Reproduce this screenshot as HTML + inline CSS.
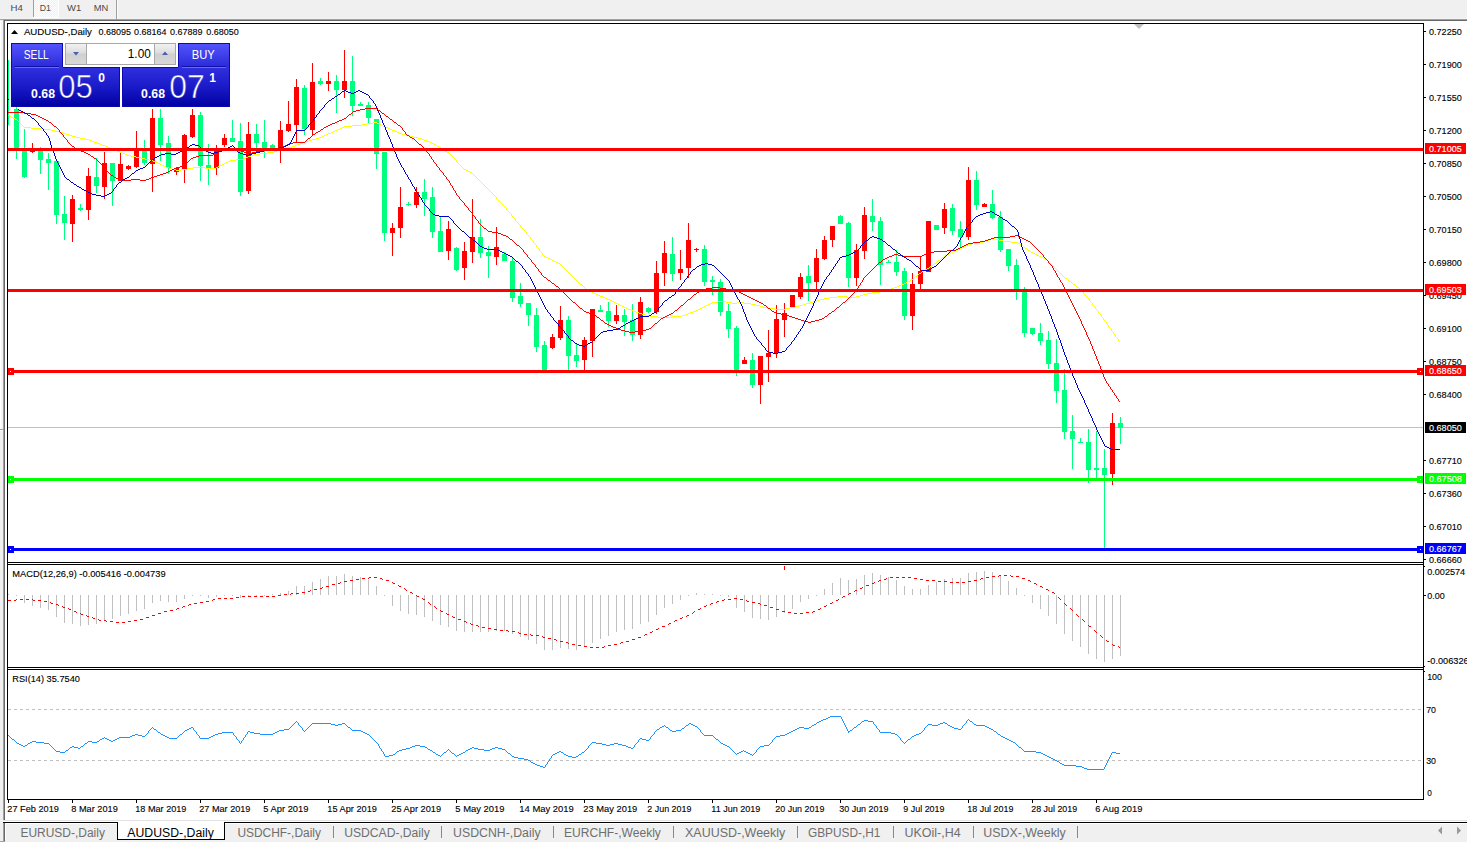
<!DOCTYPE html>
<html><head><meta charset="utf-8"><title>AUDUSD-,Daily</title>
<style>html,body{margin:0;padding:0;background:#fff;overflow:hidden}svg{display:block}text{font-family:"Liberation Sans",sans-serif;white-space:pre}</style></head>
<body>
<svg width="1467" height="842" viewBox="0 0 1467 842">
<rect x="0" y="0" width="1467" height="842" fill="#fff"/>
<rect x="0" y="0" width="1467" height="18" fill="#f0f0f0"/>
<rect x="0" y="18" width="1467" height="1" fill="#f4f4f4"/>
<rect x="0" y="19" width="1467" height="1" fill="#a0a0a0"/>
<rect x="3" y="20" width="1464" height="1" fill="#696969"/>
<rect x="0" y="20" width="3" height="802" fill="#f0f0f0"/>
<rect x="0" y="21" width="1" height="408" fill="#fff"/>
<rect x="1" y="21" width="2" height="408" fill="#f5f5f5"/>
<rect x="0" y="429" width="3" height="1" fill="#a0a0a0"/>
<rect x="0" y="430" width="3" height="1" fill="#fafafa"/>
<rect x="3" y="20" width="1" height="802" fill="#a0a0a0"/>
<rect x="4" y="21" width="1" height="801" fill="#696969"/>
<rect x="33" y="0" width="1" height="17" fill="#a0a0a0"/>
<defs><pattern id="chk" width="2" height="2" patternUnits="userSpaceOnUse"><rect width="2" height="2" fill="#f0f0f0"/><rect width="1" height="1" fill="#fff"/><rect x="1" y="1" width="1" height="1" fill="#fff"/></pattern><linearGradient id="gs" x1="0" y1="0" x2="0" y2="1"><stop offset="0" stop-color="#5555ff"/><stop offset="1" stop-color="#2a2ad8"/></linearGradient><linearGradient id="gb" gradientUnits="userSpaceOnUse" x1="0" y1="67" x2="0" y2="107"><stop offset="0" stop-color="#3030e0"/><stop offset="0.5" stop-color="#1a1ac8"/><stop offset="1" stop-color="#0000a0"/></linearGradient><linearGradient id="gg" x1="0" y1="0" x2="0" y2="1"><stop offset="0" stop-color="#f2f2f2"/><stop offset="0.45" stop-color="#dcdcdc"/><stop offset="0.5" stop-color="#cfcfcf"/><stop offset="1" stop-color="#d8d8d8"/></linearGradient><clipPath id="cm"><rect x="8" y="24" width="1415" height="538"/></clipPath></defs>
<rect x="34" y="0" width="24" height="17" fill="url(#chk)"/>
<rect x="33" y="17" width="26" height="1" fill="#fff"/>
<rect x="58" y="0" width="1" height="18" fill="#fff"/>
<rect x="116" y="0" width="1" height="19" fill="#a0a0a0"/>
<rect x="117" y="0" width="1" height="18" fill="#fbfbfb"/>
<text x="10.6" y="10.8" font-size="9.6" fill="#4a4a4a" textLength="12.3" lengthAdjust="spacingAndGlyphs" >H4</text>
<text x="39.8" y="10.8" font-size="9.6" fill="#4a4a4a" textLength="11.2" lengthAdjust="spacingAndGlyphs" >D1</text>
<text x="67" y="10.8" font-size="9.6" fill="#4a4a4a" textLength="14.2" lengthAdjust="spacingAndGlyphs" >W1</text>
<text x="93.8" y="10.8" font-size="9.6" fill="#4a4a4a" textLength="14.5" lengthAdjust="spacingAndGlyphs" >MN</text>
<rect x="7" y="23" width="1417" height="1" fill="#000"/>
<rect x="7" y="23" width="1" height="777" fill="#000"/>
<rect x="1423" y="23" width="1" height="777" fill="#000"/>
<rect x="7" y="562" width="1417" height="1" fill="#000"/>
<rect x="7" y="564" width="1417" height="1" fill="#000"/>
<rect x="7" y="667" width="1417" height="1" fill="#000"/>
<rect x="7" y="669" width="1417" height="1" fill="#000"/>
<rect x="7" y="799" width="1417" height="1" fill="#000"/>
<polygon points="1134,24 1144,24 1139,29" fill="#c0c0c0"/>
<g clip-path="url(#cm)" shape-rendering="crispEdges">
<rect x="8" y="427" width="1415" height="1" fill="#c0c0c0"/>
<rect x="8" y="60" width="1" height="65" fill="#00FF7F"/>
<rect x="16" y="107" width="1" height="52" fill="#00FF7F"/>
<rect x="14" y="109" width="5" height="41" fill="#00FF7F"/>
<rect x="24" y="129" width="1" height="49" fill="#00FF7F"/>
<rect x="22" y="148" width="5" height="29" fill="#00FF7F"/>
<rect x="32" y="143" width="1" height="10" fill="#FF0000"/>
<rect x="30" y="148" width="5" height="4" fill="#FF0000"/>
<rect x="40" y="147" width="1" height="27" fill="#00FF7F"/>
<rect x="38" y="150" width="5" height="10" fill="#00FF7F"/>
<rect x="48" y="153" width="1" height="37" fill="#00FF7F"/>
<rect x="46" y="159" width="5" height="4" fill="#00FF7F"/>
<rect x="56" y="161" width="1" height="63" fill="#00FF7F"/>
<rect x="54" y="161" width="5" height="54" fill="#00FF7F"/>
<rect x="64" y="196" width="1" height="44" fill="#00FF7F"/>
<rect x="62" y="214" width="5" height="9" fill="#00FF7F"/>
<rect x="72" y="195" width="1" height="47" fill="#FF0000"/>
<rect x="70" y="199" width="5" height="25" fill="#FF0000"/>
<rect x="80" y="204" width="1" height="7" fill="#00FF7F"/>
<rect x="78" y="208" width="5" height="2" fill="#00FF7F"/>
<rect x="88" y="168" width="1" height="52" fill="#FF0000"/>
<rect x="86" y="176" width="5" height="34" fill="#FF0000"/>
<rect x="96" y="158" width="1" height="35" fill="#00FF7F"/>
<rect x="94" y="177" width="5" height="9" fill="#00FF7F"/>
<rect x="104" y="152" width="1" height="47" fill="#FF0000"/>
<rect x="102" y="163" width="5" height="24" fill="#FF0000"/>
<rect x="112" y="163" width="1" height="43" fill="#00FF7F"/>
<rect x="110" y="163" width="5" height="18" fill="#00FF7F"/>
<rect x="120" y="153" width="1" height="28" fill="#FF0000"/>
<rect x="118" y="164" width="5" height="17" fill="#FF0000"/>
<rect x="128" y="165" width="1" height="5" fill="#FF0000"/>
<rect x="126" y="166" width="5" height="3" fill="#FF0000"/>
<rect x="136" y="131" width="1" height="37" fill="#FF0000"/>
<rect x="134" y="150" width="5" height="17" fill="#FF0000"/>
<rect x="144" y="140" width="1" height="25" fill="#00FF7F"/>
<rect x="142" y="150" width="5" height="13" fill="#00FF7F"/>
<rect x="152" y="109" width="1" height="83" fill="#FF0000"/>
<rect x="150" y="118" width="5" height="46" fill="#FF0000"/>
<rect x="160" y="109" width="1" height="52" fill="#00FF7F"/>
<rect x="158" y="118" width="5" height="27" fill="#00FF7F"/>
<rect x="168" y="136" width="1" height="38" fill="#00FF7F"/>
<rect x="166" y="143" width="5" height="25" fill="#00FF7F"/>
<rect x="176" y="167" width="1" height="8" fill="#FF0000"/>
<rect x="174" y="168" width="5" height="4" fill="#FF0000"/>
<rect x="184" y="134" width="1" height="49" fill="#FF0000"/>
<rect x="182" y="135" width="5" height="34" fill="#FF0000"/>
<rect x="192" y="109" width="1" height="29" fill="#FF0000"/>
<rect x="190" y="115" width="5" height="22" fill="#FF0000"/>
<rect x="200" y="112" width="1" height="69" fill="#00FF7F"/>
<rect x="198" y="115" width="5" height="51" fill="#00FF7F"/>
<rect x="208" y="144" width="1" height="41" fill="#00FF7F"/>
<rect x="206" y="165" width="5" height="3" fill="#00FF7F"/>
<rect x="216" y="145" width="1" height="30" fill="#FF0000"/>
<rect x="214" y="150" width="5" height="18" fill="#FF0000"/>
<rect x="224" y="134" width="1" height="13" fill="#FF0000"/>
<rect x="222" y="138" width="5" height="7" fill="#FF0000"/>
<rect x="232" y="120" width="1" height="22" fill="#00FF7F"/>
<rect x="230" y="138" width="5" height="4" fill="#00FF7F"/>
<rect x="240" y="123" width="1" height="73" fill="#00FF7F"/>
<rect x="238" y="141" width="5" height="51" fill="#00FF7F"/>
<rect x="248" y="122" width="1" height="72" fill="#FF0000"/>
<rect x="246" y="134" width="5" height="57" fill="#FF0000"/>
<rect x="256" y="124" width="1" height="27" fill="#00FF7F"/>
<rect x="254" y="134" width="5" height="9" fill="#00FF7F"/>
<rect x="264" y="120" width="1" height="38" fill="#00FF7F"/>
<rect x="262" y="142" width="5" height="6" fill="#00FF7F"/>
<rect x="272" y="144" width="1" height="5" fill="#00FF7F"/>
<rect x="270" y="145" width="5" height="4" fill="#00FF7F"/>
<rect x="280" y="121" width="1" height="42" fill="#FF0000"/>
<rect x="278" y="130" width="5" height="19" fill="#FF0000"/>
<rect x="288" y="101" width="1" height="31" fill="#FF0000"/>
<rect x="286" y="124" width="5" height="7" fill="#FF0000"/>
<rect x="296" y="79" width="1" height="63" fill="#FF0000"/>
<rect x="294" y="87" width="5" height="38" fill="#FF0000"/>
<rect x="304" y="85" width="1" height="50" fill="#00FF7F"/>
<rect x="302" y="88" width="5" height="41" fill="#00FF7F"/>
<rect x="312" y="63" width="1" height="73" fill="#FF0000"/>
<rect x="310" y="82" width="5" height="48" fill="#FF0000"/>
<rect x="320" y="78" width="1" height="7" fill="#00FF7F"/>
<rect x="318" y="81" width="5" height="3" fill="#00FF7F"/>
<rect x="328" y="72" width="1" height="19" fill="#FF0000"/>
<rect x="326" y="81" width="5" height="3" fill="#FF0000"/>
<rect x="336" y="75" width="1" height="38" fill="#00FF7F"/>
<rect x="334" y="81" width="5" height="9" fill="#00FF7F"/>
<rect x="344" y="50" width="1" height="48" fill="#FF0000"/>
<rect x="342" y="81" width="5" height="9" fill="#FF0000"/>
<rect x="352" y="56" width="1" height="60" fill="#00FF7F"/>
<rect x="350" y="81" width="5" height="25" fill="#00FF7F"/>
<rect x="360" y="102" width="1" height="4" fill="#00FF7F"/>
<rect x="358" y="104" width="5" height="2" fill="#00FF7F"/>
<rect x="368" y="102" width="1" height="21" fill="#00FF7F"/>
<rect x="366" y="105" width="5" height="13" fill="#00FF7F"/>
<rect x="376" y="119" width="1" height="50" fill="#00FF7F"/>
<rect x="374" y="119" width="5" height="35" fill="#00FF7F"/>
<rect x="384" y="152" width="1" height="89" fill="#00FF7F"/>
<rect x="382" y="152" width="5" height="81" fill="#00FF7F"/>
<rect x="392" y="223" width="1" height="33" fill="#FF0000"/>
<rect x="390" y="228" width="5" height="5" fill="#FF0000"/>
<rect x="400" y="187" width="1" height="51" fill="#FF0000"/>
<rect x="398" y="207" width="5" height="21" fill="#FF0000"/>
<rect x="408" y="202" width="1" height="4" fill="#00FF7F"/>
<rect x="406" y="204" width="5" height="1" fill="#00FF7F"/>
<rect x="416" y="187" width="1" height="21" fill="#FF0000"/>
<rect x="414" y="192" width="5" height="13" fill="#FF0000"/>
<rect x="424" y="179" width="1" height="37" fill="#00FF7F"/>
<rect x="422" y="192" width="5" height="7" fill="#00FF7F"/>
<rect x="432" y="187" width="1" height="51" fill="#00FF7F"/>
<rect x="430" y="197" width="5" height="35" fill="#00FF7F"/>
<rect x="440" y="217" width="1" height="35" fill="#00FF7F"/>
<rect x="438" y="231" width="5" height="21" fill="#00FF7F"/>
<rect x="448" y="221" width="1" height="39" fill="#FF0000"/>
<rect x="446" y="229" width="5" height="22" fill="#FF0000"/>
<rect x="456" y="247" width="1" height="24" fill="#00FF7F"/>
<rect x="454" y="248" width="5" height="22" fill="#00FF7F"/>
<rect x="464" y="242" width="1" height="38" fill="#FF0000"/>
<rect x="462" y="251" width="5" height="17" fill="#FF0000"/>
<rect x="472" y="199" width="1" height="64" fill="#FF0000"/>
<rect x="470" y="237" width="5" height="15" fill="#FF0000"/>
<rect x="480" y="219" width="1" height="39" fill="#00FF7F"/>
<rect x="478" y="237" width="5" height="16" fill="#00FF7F"/>
<rect x="488" y="246" width="1" height="32" fill="#00FF7F"/>
<rect x="486" y="252" width="5" height="4" fill="#00FF7F"/>
<rect x="496" y="227" width="1" height="38" fill="#FF0000"/>
<rect x="494" y="247" width="5" height="10" fill="#FF0000"/>
<rect x="504" y="252" width="1" height="9" fill="#00FF7F"/>
<rect x="502" y="254" width="5" height="7" fill="#00FF7F"/>
<rect x="512" y="257" width="1" height="45" fill="#00FF7F"/>
<rect x="510" y="261" width="5" height="37" fill="#00FF7F"/>
<rect x="520" y="283" width="1" height="24" fill="#00FF7F"/>
<rect x="518" y="296" width="5" height="8" fill="#00FF7F"/>
<rect x="528" y="303" width="1" height="23" fill="#00FF7F"/>
<rect x="526" y="303" width="5" height="12" fill="#00FF7F"/>
<rect x="536" y="308" width="1" height="44" fill="#00FF7F"/>
<rect x="534" y="315" width="5" height="32" fill="#00FF7F"/>
<rect x="544" y="341" width="1" height="29" fill="#00FF7F"/>
<rect x="542" y="345" width="5" height="25" fill="#00FF7F"/>
<rect x="552" y="334" width="1" height="15" fill="#FF0000"/>
<rect x="550" y="337" width="5" height="11" fill="#FF0000"/>
<rect x="560" y="306" width="1" height="34" fill="#FF0000"/>
<rect x="558" y="320" width="5" height="18" fill="#FF0000"/>
<rect x="568" y="316" width="1" height="54" fill="#00FF7F"/>
<rect x="566" y="320" width="5" height="36" fill="#00FF7F"/>
<rect x="576" y="343" width="1" height="24" fill="#00FF7F"/>
<rect x="574" y="355" width="5" height="6" fill="#00FF7F"/>
<rect x="584" y="337" width="1" height="33" fill="#FF0000"/>
<rect x="582" y="340" width="5" height="20" fill="#FF0000"/>
<rect x="592" y="309" width="1" height="48" fill="#FF0000"/>
<rect x="590" y="309" width="5" height="32" fill="#FF0000"/>
<rect x="600" y="305" width="1" height="7" fill="#00FF7F"/>
<rect x="598" y="310" width="5" height="2" fill="#00FF7F"/>
<rect x="608" y="302" width="1" height="25" fill="#00FF7F"/>
<rect x="606" y="311" width="5" height="10" fill="#00FF7F"/>
<rect x="616" y="305" width="1" height="19" fill="#FF0000"/>
<rect x="614" y="315" width="5" height="6" fill="#FF0000"/>
<rect x="624" y="309" width="1" height="27" fill="#00FF7F"/>
<rect x="622" y="315" width="5" height="7" fill="#00FF7F"/>
<rect x="632" y="304" width="1" height="37" fill="#00FF7F"/>
<rect x="630" y="320" width="5" height="15" fill="#00FF7F"/>
<rect x="640" y="297" width="1" height="42" fill="#FF0000"/>
<rect x="638" y="302" width="5" height="33" fill="#FF0000"/>
<rect x="648" y="307" width="1" height="6" fill="#00FF7F"/>
<rect x="646" y="308" width="5" height="4" fill="#00FF7F"/>
<rect x="656" y="261" width="1" height="53" fill="#FF0000"/>
<rect x="654" y="273" width="5" height="39" fill="#FF0000"/>
<rect x="664" y="241" width="1" height="45" fill="#FF0000"/>
<rect x="662" y="253" width="5" height="20" fill="#FF0000"/>
<rect x="672" y="237" width="1" height="44" fill="#00FF7F"/>
<rect x="670" y="254" width="5" height="20" fill="#00FF7F"/>
<rect x="680" y="250" width="1" height="30" fill="#FF0000"/>
<rect x="678" y="269" width="5" height="4" fill="#FF0000"/>
<rect x="688" y="223" width="1" height="55" fill="#FF0000"/>
<rect x="686" y="240" width="5" height="28" fill="#FF0000"/>
<rect x="696" y="248" width="1" height="4" fill="#FF0000"/>
<rect x="694" y="249" width="5" height="1" fill="#FF0000"/>
<rect x="704" y="245" width="1" height="41" fill="#00FF7F"/>
<rect x="702" y="249" width="5" height="33" fill="#00FF7F"/>
<rect x="712" y="276" width="1" height="19" fill="#00FF7F"/>
<rect x="710" y="280" width="5" height="2" fill="#00FF7F"/>
<rect x="720" y="279" width="1" height="37" fill="#00FF7F"/>
<rect x="718" y="282" width="5" height="30" fill="#00FF7F"/>
<rect x="728" y="304" width="1" height="34" fill="#00FF7F"/>
<rect x="726" y="311" width="5" height="18" fill="#00FF7F"/>
<rect x="736" y="326" width="1" height="50" fill="#00FF7F"/>
<rect x="734" y="328" width="5" height="42" fill="#00FF7F"/>
<rect x="744" y="357" width="1" height="7" fill="#FF0000"/>
<rect x="742" y="360" width="5" height="4" fill="#FF0000"/>
<rect x="752" y="353" width="1" height="35" fill="#00FF7F"/>
<rect x="750" y="360" width="5" height="25" fill="#00FF7F"/>
<rect x="760" y="356" width="1" height="48" fill="#FF0000"/>
<rect x="758" y="356" width="5" height="29" fill="#FF0000"/>
<rect x="768" y="330" width="1" height="52" fill="#FF0000"/>
<rect x="766" y="353" width="5" height="4" fill="#FF0000"/>
<rect x="776" y="305" width="1" height="53" fill="#FF0000"/>
<rect x="774" y="319" width="5" height="34" fill="#FF0000"/>
<rect x="784" y="303" width="1" height="34" fill="#FF0000"/>
<rect x="782" y="313" width="5" height="7" fill="#FF0000"/>
<rect x="792" y="295" width="1" height="13" fill="#FF0000"/>
<rect x="790" y="295" width="5" height="12" fill="#FF0000"/>
<rect x="800" y="273" width="1" height="26" fill="#FF0000"/>
<rect x="798" y="277" width="5" height="20" fill="#FF0000"/>
<rect x="808" y="265" width="1" height="36" fill="#00FF7F"/>
<rect x="806" y="276" width="5" height="7" fill="#00FF7F"/>
<rect x="816" y="249" width="1" height="40" fill="#FF0000"/>
<rect x="814" y="258" width="5" height="24" fill="#FF0000"/>
<rect x="824" y="236" width="1" height="24" fill="#FF0000"/>
<rect x="822" y="240" width="5" height="19" fill="#FF0000"/>
<rect x="832" y="226" width="1" height="21" fill="#FF0000"/>
<rect x="830" y="226" width="5" height="14" fill="#FF0000"/>
<rect x="840" y="215" width="1" height="9" fill="#00FF7F"/>
<rect x="838" y="216" width="5" height="8" fill="#00FF7F"/>
<rect x="848" y="222" width="1" height="65" fill="#00FF7F"/>
<rect x="846" y="223" width="5" height="55" fill="#00FF7F"/>
<rect x="856" y="244" width="1" height="42" fill="#FF0000"/>
<rect x="854" y="250" width="5" height="28" fill="#FF0000"/>
<rect x="864" y="207" width="1" height="52" fill="#FF0000"/>
<rect x="862" y="215" width="5" height="36" fill="#FF0000"/>
<rect x="872" y="199" width="1" height="32" fill="#00FF7F"/>
<rect x="870" y="216" width="5" height="6" fill="#00FF7F"/>
<rect x="880" y="217" width="1" height="68" fill="#00FF7F"/>
<rect x="878" y="221" width="5" height="44" fill="#00FF7F"/>
<rect x="888" y="260" width="1" height="3" fill="#00FF7F"/>
<rect x="886" y="262" width="5" height="1" fill="#00FF7F"/>
<rect x="896" y="250" width="1" height="26" fill="#00FF7F"/>
<rect x="894" y="262" width="5" height="10" fill="#00FF7F"/>
<rect x="904" y="268" width="1" height="52" fill="#00FF7F"/>
<rect x="902" y="271" width="5" height="45" fill="#00FF7F"/>
<rect x="912" y="273" width="1" height="57" fill="#FF0000"/>
<rect x="910" y="284" width="5" height="32" fill="#FF0000"/>
<rect x="920" y="256" width="1" height="33" fill="#FF0000"/>
<rect x="918" y="271" width="5" height="13" fill="#FF0000"/>
<rect x="928" y="221" width="1" height="51" fill="#FF0000"/>
<rect x="926" y="221" width="5" height="51" fill="#FF0000"/>
<rect x="936" y="225" width="1" height="5" fill="#00FF7F"/>
<rect x="934" y="225" width="5" height="5" fill="#00FF7F"/>
<rect x="944" y="203" width="1" height="31" fill="#FF0000"/>
<rect x="942" y="209" width="5" height="19" fill="#FF0000"/>
<rect x="952" y="204" width="1" height="31" fill="#00FF7F"/>
<rect x="950" y="208" width="5" height="23" fill="#00FF7F"/>
<rect x="960" y="221" width="1" height="27" fill="#00FF7F"/>
<rect x="958" y="229" width="5" height="8" fill="#00FF7F"/>
<rect x="968" y="167" width="1" height="73" fill="#FF0000"/>
<rect x="966" y="180" width="5" height="57" fill="#FF0000"/>
<rect x="976" y="171" width="1" height="39" fill="#00FF7F"/>
<rect x="974" y="180" width="5" height="25" fill="#00FF7F"/>
<rect x="984" y="203" width="1" height="4" fill="#FF0000"/>
<rect x="982" y="204" width="5" height="3" fill="#FF0000"/>
<rect x="992" y="190" width="1" height="29" fill="#00FF7F"/>
<rect x="990" y="204" width="5" height="14" fill="#00FF7F"/>
<rect x="1000" y="211" width="1" height="41" fill="#00FF7F"/>
<rect x="998" y="217" width="5" height="33" fill="#00FF7F"/>
<rect x="1008" y="249" width="1" height="22" fill="#00FF7F"/>
<rect x="1006" y="249" width="5" height="17" fill="#00FF7F"/>
<rect x="1016" y="259" width="1" height="41" fill="#00FF7F"/>
<rect x="1014" y="265" width="5" height="25" fill="#00FF7F"/>
<rect x="1024" y="287" width="1" height="50" fill="#00FF7F"/>
<rect x="1022" y="292" width="5" height="41" fill="#00FF7F"/>
<rect x="1032" y="328" width="1" height="7" fill="#00FF7F"/>
<rect x="1030" y="328" width="5" height="6" fill="#00FF7F"/>
<rect x="1040" y="323" width="1" height="22" fill="#00FF7F"/>
<rect x="1038" y="333" width="5" height="8" fill="#00FF7F"/>
<rect x="1048" y="331" width="1" height="38" fill="#00FF7F"/>
<rect x="1046" y="340" width="5" height="24" fill="#00FF7F"/>
<rect x="1056" y="339" width="1" height="64" fill="#00FF7F"/>
<rect x="1054" y="363" width="5" height="28" fill="#00FF7F"/>
<rect x="1064" y="369" width="1" height="70" fill="#00FF7F"/>
<rect x="1062" y="390" width="5" height="42" fill="#00FF7F"/>
<rect x="1072" y="415" width="1" height="54" fill="#00FF7F"/>
<rect x="1070" y="431" width="5" height="8" fill="#00FF7F"/>
<rect x="1080" y="438" width="1" height="5" fill="#00FF7F"/>
<rect x="1078" y="442" width="5" height="1" fill="#00FF7F"/>
<rect x="1088" y="429" width="1" height="54" fill="#00FF7F"/>
<rect x="1086" y="442" width="5" height="28" fill="#00FF7F"/>
<rect x="1096" y="431" width="1" height="47" fill="#00FF7F"/>
<rect x="1094" y="468" width="5" height="2" fill="#00FF7F"/>
<rect x="1104" y="449" width="1" height="99" fill="#00FF7F"/>
<rect x="1102" y="468" width="5" height="7" fill="#00FF7F"/>
<rect x="1112" y="413" width="1" height="72" fill="#FF0000"/>
<rect x="1110" y="423" width="5" height="51" fill="#FF0000"/>
<rect x="1120" y="417" width="1" height="27" fill="#00FF7F"/>
<rect x="1118" y="423" width="5" height="5" fill="#00FF7F"/>
<path d="M8 115h1v1h-1zM9 116h2v1h-2zM11 117h2v1h-2zM13 118h2v1h-2zM15 119h2v1h-2zM17 120h1v1h-1zM18 121h1v1h-1zM19 122h1v1h-1zM20 123h1v1h-1zM21 124h1v1h-1zM22 125h1v1h-1zM23 126h1v1h-1zM24 127h7v1h-7zM31 128h12v1h-12zM43 129h8v1h-8zM51 130h4v1h-4zM55 131h4v1h-4zM59 132h4v1h-4zM63 133h3v1h-3zM66 134h3v1h-3zM69 135h3v1h-3zM72 136h4v1h-4zM76 137h4v1h-4zM80 138h5v1h-5zM85 139h4v1h-4zM89 140h3v1h-3zM92 141h2v1h-2zM94 142h3v1h-3zM97 143h3v1h-3zM100 144h2v1h-2zM102 145h3v1h-3zM105 146h3v1h-3zM108 147h2v1h-2zM110 148h2v1h-2zM112 149h3v1h-3zM115 150h2v1h-2zM117 151h3v1h-3zM120 152h2v1h-2zM122 153h3v1h-3zM125 154h2v1h-2zM127 155h4v1h-4zM131 156h5v1h-5zM136 157h5v1h-5zM141 158h4v1h-4zM145 159h4v1h-4zM149 160h4v1h-4zM153 161h3v1h-3zM156 162h2v1h-2zM158 163h2v1h-2zM160 164h2v1h-2zM162 165h2v1h-2zM164 166h2v1h-2zM166 167h3v1h-3zM169 168h3v1h-3zM172 169h4v1h-4zM176 170h5v1h-5zM181 169h6v1h-6zM187 168h6v1h-6zM193 167h12v1h-12zM205 168h11v1h-11zM216 167h2v1h-2zM218 166h2v1h-2zM220 165h2v1h-2zM222 164h2v1h-2zM224 163h2v1h-2zM226 162h2v1h-2zM228 161h2v1h-2zM230 160h6v1h-6zM236 159h7v1h-7zM243 158h3v1h-3zM246 157h2v1h-2zM248 156h3v1h-3zM251 155h3v1h-3zM254 154h6v1h-6zM260 153h8v1h-8zM268 152h6v1h-6zM274 151h3v1h-3zM277 150h2v1h-2zM279 149h3v1h-3zM282 148h3v1h-3zM285 147h7v1h-7zM292 146h3v1h-3zM295 145h2v1h-2zM297 144h3v1h-3zM300 143h3v1h-3zM303 142h3v1h-3zM306 141h3v1h-3zM309 140h3v1h-3zM312 139h4v1h-4zM316 138h3v1h-3zM319 137h3v1h-3zM322 136h2v1h-2zM324 135h2v1h-2zM326 134h2v1h-2zM328 133h3v1h-3zM331 132h2v1h-2zM333 131h2v1h-2zM335 130h3v1h-3zM338 129h2v1h-2zM340 128h2v1h-2zM342 127h2v1h-2zM344 126h8v1h-8zM352 125h10v1h-10zM362 124h5v1h-5zM367 123h6v1h-6zM373 122h4v1h-4zM377 123h2v1h-2zM379 124h2v1h-2zM381 125h2v1h-2zM383 126h2v1h-2zM385 127h3v1h-3zM388 128h2v1h-2zM390 129h2v1h-2zM392 130h3v1h-3zM395 131h2v1h-2zM397 132h2v1h-2zM399 133h3v1h-3zM402 134h4v1h-4zM406 135h4v1h-4zM410 136h4v1h-4zM414 137h4v1h-4zM418 138h4v1h-4zM422 139h2v1h-2zM424 140h3v1h-3zM427 141h3v1h-3zM430 142h2v1h-2zM432 143h2v1h-2zM434 144h2v1h-2zM436 145h1v1h-1zM437 146h2v1h-2zM439 147h2v1h-2zM441 148h1v1h-1zM442 149h2v1h-2zM444 150h1v1h-1zM445 151h2v1h-2zM447 152h2v1h-2zM449 153h1v1h-1zM450 154h1v1h-1zM451 155h1v1h-1zM452 156h1v1h-1zM453 157h1v1h-1zM454 158h1v1h-1zM455 159h1v1h-1zM456 160h1v2h-1zM457 162h1v1h-1zM458 163h1v1h-1zM459 164h1v1h-1zM460 165h1v1h-1zM461 166h1v1h-1zM462 167h1v1h-1zM463 168h1v1h-1zM464 169h2v1h-2zM466 170h2v1h-2zM468 171h2v1h-2zM470 172h2v1h-2zM472 173h1v1h-1zM473 174h1v1h-1zM474 175h1v1h-1zM475 176h1v1h-1zM476 177h1v1h-1zM477 178h1v1h-1zM478 179h1v1h-1zM479 180h1v1h-1zM480 181h1v1h-1zM481 182h1v1h-1zM482 183h1v1h-1zM483 184h1v1h-1zM484 185h1v1h-1zM485 186h1v1h-1zM486 187h1v1h-1zM487 188h1v1h-1zM488 189h1v1h-1zM489 190h1v1h-1zM490 191h1v1h-1zM491 192h1v1h-1zM492 193h1v1h-1zM493 194h1v1h-1zM494 195h1v1h-1zM495 196h1v1h-1zM496 197h1v2h-1zM497 199h1v1h-1zM498 200h1v1h-1zM499 201h1v1h-1zM500 202h1v1h-1zM501 203h1v1h-1zM502 204h1v1h-1zM503 205h1v1h-1zM504 206h1v1h-1zM505 207h1v1h-1zM506 208h1v2h-1zM507 210h1v1h-1zM508 211h1v1h-1zM509 212h1v1h-1zM510 213h1v1h-1zM511 214h1v2h-1zM512 216h1v1h-1zM513 217h1v1h-1zM514 218h1v1h-1zM515 219h1v2h-1zM516 221h1v1h-1zM517 222h1v1h-1zM518 223h1v1h-1zM519 224h1v1h-1zM520 225h1v2h-1zM521 227h1v1h-1zM522 228h1v1h-1zM523 229h1v1h-1zM524 230h1v1h-1zM525 231h1v1h-1zM526 232h1v2h-1zM527 234h1v1h-1zM528 235h1v1h-1zM529 236h1v1h-1zM530 237h1v2h-1zM531 239h1v1h-1zM532 240h1v1h-1zM533 241h1v2h-1zM534 243h1v1h-1zM535 244h1v1h-1zM536 245h1v2h-1zM537 247h1v1h-1zM538 248h1v1h-1zM539 249h1v2h-1zM540 251h1v1h-1zM541 252h1v1h-1zM542 253h1v2h-1zM543 255h1v1h-1zM544 256h2v1h-2zM546 257h2v1h-2zM548 258h2v1h-2zM550 259h2v1h-2zM552 260h2v1h-2zM554 261h2v1h-2zM556 262h2v1h-2zM558 263h2v1h-2zM560 264h1v1h-1zM561 265h1v1h-1zM562 266h1v1h-1zM563 267h1v1h-1zM564 268h1v1h-1zM565 269h1v1h-1zM566 270h1v1h-1zM567 271h1v1h-1zM568 272h1v1h-1zM569 273h1v1h-1zM570 274h1v1h-1zM571 275h1v1h-1zM572 276h1v1h-1zM573 277h1v1h-1zM574 278h1v1h-1zM575 279h1v1h-1zM576 280h1v1h-1zM577 281h1v1h-1zM578 282h1v1h-1zM579 283h1v1h-1zM580 284h2v1h-2zM582 285h1v1h-1zM583 286h1v1h-1zM584 287h1v1h-1zM585 288h1v1h-1zM586 289h2v1h-2zM588 290h2v1h-2zM590 291h2v1h-2zM592 292h2v1h-2zM594 293h2v1h-2zM596 294h2v1h-2zM598 295h2v1h-2zM600 296h3v1h-3zM603 297h2v1h-2zM605 298h2v1h-2zM607 299h3v1h-3zM610 300h2v1h-2zM612 301h2v1h-2zM614 302h2v1h-2zM616 303h2v1h-2zM618 304h2v1h-2zM620 305h2v1h-2zM622 306h2v1h-2zM624 307h2v1h-2zM626 308h2v1h-2zM628 309h3v1h-3zM631 310h3v1h-3zM634 311h2v1h-2zM636 312h3v1h-3zM639 313h3v1h-3zM642 314h4v1h-4zM646 315h4v1h-4zM650 316h8v1h-8zM658 317h14v1h-14zM672 316h10v1h-10zM682 315h3v1h-3zM685 314h3v1h-3zM688 313h2v1h-2zM690 312h3v1h-3zM693 311h3v1h-3zM696 310h2v1h-2zM698 309h2v1h-2zM700 308h2v1h-2zM702 307h2v1h-2zM704 306h2v1h-2zM706 305h2v1h-2zM708 304h2v1h-2zM710 303h2v1h-2zM712 302h6v1h-6zM718 301h8v1h-8zM726 302h6v1h-6zM732 303h5v1h-5zM737 302h7v1h-7zM744 303h7v1h-7zM751 304h5v1h-5zM756 305h4v1h-4zM760 306h3v1h-3zM763 307h4v1h-4zM767 308h8v1h-8zM775 309h10v1h-10zM785 308h5v1h-5zM790 307h5v1h-5zM795 306h4v1h-4zM799 305h4v1h-4zM803 304h3v1h-3zM806 303h4v1h-4zM810 302h3v1h-3zM813 301h4v1h-4zM817 300h3v1h-3zM820 299h4v1h-4zM824 298h5v1h-5zM829 297h8v1h-8zM837 296h10v1h-10zM847 297h9v1h-9zM856 296h4v1h-4zM860 295h3v1h-3zM863 294h4v1h-4zM867 293h5v1h-5zM872 292h8v1h-8zM880 291h5v1h-5zM885 290h3v1h-3zM888 289h3v1h-3zM891 288h3v1h-3zM894 287h3v1h-3zM897 286h2v1h-2zM899 285h2v1h-2zM901 284h3v1h-3zM904 283h2v1h-2zM906 282h2v1h-2zM908 281h2v1h-2zM910 280h1v1h-1zM911 279h2v1h-2zM913 278h1v1h-1zM914 277h1v1h-1zM915 276h2v1h-2zM917 275h1v1h-1zM918 274h1v1h-1zM919 273h2v1h-2zM921 272h1v1h-1zM922 271h2v1h-2zM924 270h1v1h-1zM925 269h2v1h-2zM927 268h2v1h-2zM929 267h1v1h-1zM930 266h2v1h-2zM932 265h1v1h-1zM933 264h1v1h-1zM934 263h2v1h-2zM936 262h1v1h-1zM937 261h1v1h-1zM938 260h2v1h-2zM940 259h1v1h-1zM941 258h1v1h-1zM942 257h2v1h-2zM944 256h1v1h-1zM945 255h2v1h-2zM947 254h2v1h-2zM949 253h2v1h-2zM951 252h2v1h-2zM953 251h2v1h-2zM955 250h3v1h-3zM958 249h2v1h-2zM960 248h2v1h-2zM962 247h2v1h-2zM964 246h2v1h-2zM966 245h2v1h-2zM968 244h4v1h-4zM972 243h6v1h-6zM978 242h5v1h-5zM983 241h3v1h-3zM986 240h3v1h-3zM989 239h3v1h-3zM992 238h3v1h-3zM995 239h4v1h-4zM999 240h4v1h-4zM1003 241h8v1h-8zM1011 242h7v1h-7zM1018 243h2v1h-2zM1020 244h1v1h-1zM1021 245h2v1h-2zM1023 246h1v1h-1zM1024 247h1v1h-1zM1025 248h2v1h-2zM1027 249h1v1h-1zM1028 250h2v1h-2zM1030 251h1v1h-1zM1031 252h2v1h-2zM1033 253h2v1h-2zM1035 254h2v1h-2zM1037 255h2v1h-2zM1039 256h2v1h-2zM1041 257h2v1h-2zM1043 258h2v1h-2zM1045 259h2v1h-2zM1047 260h1v1h-1zM1048 261h1v1h-1zM1049 262h1v1h-1zM1050 263h1v1h-1zM1051 264h1v1h-1zM1052 265h1v1h-1zM1053 266h1v1h-1zM1054 267h1v1h-1zM1055 268h1v1h-1zM1056 269h1v1h-1zM1057 270h1v1h-1zM1058 271h1v1h-1zM1059 272h1v1h-1zM1060 273h1v1h-1zM1061 274h1v1h-1zM1062 275h1v1h-1zM1063 276h1v1h-1zM1064 277h1v1h-1zM1065 278h2v1h-2zM1067 279h1v1h-1zM1068 280h1v1h-1zM1069 281h2v1h-2zM1071 282h1v1h-1zM1072 283h1v1h-1zM1073 284h2v1h-2zM1075 285h1v1h-1zM1076 286h1v1h-1zM1077 287h2v1h-2zM1079 288h1v1h-1zM1080 289h1v1h-1zM1081 290h1v1h-1zM1082 291h1v1h-1zM1083 292h1v2h-1zM1084 294h1v1h-1zM1085 295h1v1h-1zM1086 296h1v1h-1zM1087 297h1v1h-1zM1088 298h1v1h-1zM1089 299h1v2h-1zM1090 301h1v1h-1zM1091 302h1v1h-1zM1092 303h1v2h-1zM1093 305h1v1h-1zM1094 306h1v1h-1zM1095 307h1v2h-1zM1096 309h1v1h-1zM1097 310h1v1h-1zM1098 311h1v2h-1zM1099 313h1v1h-1zM1100 314h1v1h-1zM1101 315h1v2h-1zM1102 317h1v1h-1zM1103 318h1v2h-1zM1104 320h1v1h-1zM1105 321h1v1h-1zM1106 322h1v2h-1zM1107 324h1v1h-1zM1108 325h1v2h-1zM1109 327h1v1h-1zM1110 328h1v1h-1zM1111 329h1v2h-1zM1112 331h1v1h-1zM1113 332h1v2h-1zM1114 334h1v1h-1zM1115 335h1v2h-1zM1116 337h1v1h-1zM1117 338h1v1h-1zM1118 339h1v2h-1zM1119 341h1v1h-1z" fill="#FFFF00"/>
<path d="M8 112h16v1h-16zM24 113h7v1h-7zM31 114h5v1h-5zM36 115h2v1h-2zM38 116h2v1h-2zM40 117h2v1h-2zM42 118h2v1h-2zM44 119h2v1h-2zM46 120h2v1h-2zM48 121h1v1h-1zM49 122h2v1h-2zM51 123h1v1h-1zM52 124h1v1h-1zM53 125h1v1h-1zM54 126h2v1h-2zM56 127h1v1h-1zM57 128h1v1h-1zM58 129h1v1h-1zM59 130h1v2h-1zM60 132h1v1h-1zM61 133h1v1h-1zM62 134h1v1h-1zM63 135h1v2h-1zM64 137h1v1h-1zM65 138h1v1h-1zM66 139h1v1h-1zM67 140h1v2h-1zM68 142h1v1h-1zM69 143h1v1h-1zM70 144h1v1h-1zM71 145h1v1h-1zM72 146h2v1h-2zM74 147h1v1h-1zM75 148h2v1h-2zM77 149h2v1h-2zM79 150h2v1h-2zM81 151h3v1h-3zM84 152h2v1h-2zM86 153h2v1h-2zM88 154h2v1h-2zM90 155h1v1h-1zM91 156h2v1h-2zM93 157h1v1h-1zM94 158h2v1h-2zM96 159h1v1h-1zM97 160h1v1h-1zM98 161h1v1h-1zM99 162h1v1h-1zM100 163h1v1h-1zM101 164h1v1h-1zM102 165h1v1h-1zM103 166h1v1h-1zM104 167h1v1h-1zM105 168h1v1h-1zM106 169h1v2h-1zM107 171h1v1h-1zM108 172h1v1h-1zM109 173h1v1h-1zM110 174h1v1h-1zM111 175h2v1h-2zM113 176h1v1h-1zM114 177h2v1h-2zM116 178h2v1h-2zM118 179h4v1h-4zM122 180h9v1h-9zM131 179h9v1h-9zM140 180h6v1h-6zM146 179h3v1h-3zM149 178h2v1h-2zM151 177h3v1h-3zM154 176h3v1h-3zM157 175h3v1h-3zM160 174h3v1h-3zM163 173h3v1h-3zM166 172h2v1h-2zM168 171h2v1h-2zM170 170h2v1h-2zM172 169h2v1h-2zM174 168h3v1h-3zM177 167h3v1h-3zM180 166h3v1h-3zM183 165h2v1h-2zM185 164h1v1h-1zM186 163h1v1h-1zM187 162h1v1h-1zM188 161h1v1h-1zM189 160h1v1h-1zM190 159h1v1h-1zM191 158h2v1h-2zM193 157h3v1h-3zM196 156h3v1h-3zM199 155h14v1h-14zM213 154h2v1h-2zM215 153h2v1h-2zM217 152h2v1h-2zM219 151h2v1h-2zM221 150h8v1h-8zM229 149h8v1h-8zM237 150h4v1h-4zM241 151h3v1h-3zM244 152h4v1h-4zM248 153h4v1h-4zM252 152h4v1h-4zM256 151h5v1h-5zM261 150h6v1h-6zM267 149h6v1h-6zM273 148h6v1h-6zM279 147h4v1h-4zM283 146h2v1h-2zM285 145h2v1h-2zM287 144h2v1h-2zM289 143h4v1h-4zM293 142h12v1h-12zM305 141h1v1h-1zM306 140h1v1h-1zM307 139h1v1h-1zM308 138h2v1h-2zM310 137h1v1h-1zM311 136h1v1h-1zM312 135h1v1h-1zM313 134h2v1h-2zM315 133h1v1h-1zM316 132h2v1h-2zM318 131h2v1h-2zM320 130h1v1h-1zM321 129h2v1h-2zM323 128h1v1h-1zM324 127h2v1h-2zM326 126h2v1h-2zM328 125h2v1h-2zM330 124h2v1h-2zM332 123h3v1h-3zM335 122h2v1h-2zM337 121h2v1h-2zM339 120h3v1h-3zM342 119h2v1h-2zM344 118h2v1h-2zM346 117h1v1h-1zM347 116h1v1h-1zM348 115h1v1h-1zM349 114h2v1h-2zM351 113h1v1h-1zM352 112h1v1h-1zM353 111h3v1h-3zM356 110h4v1h-4zM360 109h5v1h-5zM365 108h12v1h-12zM377 109h1v1h-1zM378 110h2v1h-2zM380 111h1v1h-1zM381 112h1v1h-1zM382 113h2v1h-2zM384 114h1v1h-1zM385 115h1v1h-1zM386 116h2v1h-2zM388 117h1v1h-1zM389 118h1v1h-1zM390 119h2v1h-2zM392 120h1v1h-1zM393 121h1v1h-1zM394 122h2v1h-2zM396 123h1v1h-1zM397 124h1v1h-1zM398 125h2v1h-2zM400 126h1v1h-1zM401 127h1v1h-1zM402 128h1v2h-1zM403 130h1v1h-1zM404 131h1v1h-1zM405 132h1v2h-1zM406 134h1v1h-1zM407 135h2v1h-2zM409 136h1v1h-1zM410 137h2v1h-2zM412 138h2v1h-2zM414 139h1v1h-1zM415 140h1v1h-1zM416 141h1v1h-1zM417 142h1v1h-1zM418 143h1v1h-1zM419 144h2v1h-2zM421 145h1v1h-1zM422 146h1v1h-1zM423 147h1v1h-1zM424 148h1v1h-1zM425 149h1v1h-1zM426 150h1v2h-1zM427 152h1v1h-1zM428 153h1v1h-1zM429 154h1v2h-1zM430 156h1v1h-1zM431 157h1v2h-1zM432 159h1v1h-1zM433 160h1v2h-1zM434 162h1v1h-1zM435 163h1v1h-1zM436 164h1v2h-1zM437 166h1v1h-1zM438 167h1v1h-1zM439 168h1v2h-1zM440 170h1v1h-1zM441 171h1v1h-1zM442 172h1v1h-1zM443 173h1v2h-1zM444 175h1v1h-1zM445 176h1v1h-1zM446 177h1v2h-1zM447 179h1v1h-1zM448 180h1v1h-1zM449 181h1v2h-1zM450 183h1v2h-1zM451 185h1v1h-1zM452 186h1v2h-1zM453 188h1v2h-1zM454 190h1v1h-1zM455 191h1v2h-1zM456 193h1v2h-1zM457 195h1v1h-1zM458 196h1v1h-1zM459 197h1v2h-1zM460 199h1v1h-1zM461 200h1v1h-1zM462 201h1v1h-1zM463 202h1v1h-1zM464 203h1v2h-1zM465 205h1v1h-1zM466 206h1v1h-1zM467 207h1v1h-1zM468 208h1v2h-1zM469 210h1v1h-1zM470 211h1v1h-1zM471 212h1v1h-1zM472 213h1v2h-1zM473 215h1v1h-1zM474 216h1v1h-1zM475 217h1v2h-1zM476 219h1v1h-1zM477 220h1v1h-1zM478 221h1v2h-1zM479 223h1v1h-1zM480 224h1v1h-1zM481 225h1v1h-1zM482 226h1v1h-1zM483 227h1v1h-1zM484 228h2v1h-2zM486 229h1v1h-1zM487 230h1v1h-1zM488 231h4v1h-4zM492 232h6v1h-6zM498 233h3v1h-3zM501 234h2v1h-2zM503 235h3v1h-3zM506 236h2v1h-2zM508 237h1v1h-1zM509 238h1v1h-1zM510 239h2v1h-2zM512 240h1v1h-1zM513 241h1v1h-1zM514 242h1v1h-1zM515 243h1v1h-1zM516 244h1v1h-1zM517 245h2v1h-2zM519 246h1v1h-1zM520 247h1v1h-1zM521 248h1v1h-1zM522 249h1v1h-1zM523 250h1v2h-1zM524 252h1v1h-1zM525 253h1v1h-1zM526 254h1v1h-1zM527 255h1v2h-1zM528 257h1v1h-1zM529 258h1v1h-1zM530 259h1v1h-1zM531 260h1v2h-1zM532 262h1v1h-1zM533 263h1v1h-1zM534 264h1v1h-1zM535 265h1v2h-1zM536 267h1v1h-1zM537 268h1v1h-1zM538 269h1v2h-1zM539 271h1v1h-1zM540 272h1v1h-1zM541 273h1v2h-1zM542 275h1v1h-1zM543 276h1v1h-1zM544 277h2v1h-2zM546 278h1v1h-1zM547 279h1v1h-1zM548 280h2v1h-2zM550 281h1v1h-1zM551 282h1v1h-1zM552 283h2v1h-2zM554 284h1v1h-1zM555 285h1v1h-1zM556 286h2v1h-2zM558 287h1v1h-1zM559 288h1v1h-1zM560 289h1v1h-1zM561 290h1v1h-1zM562 291h1v1h-1zM563 292h1v1h-1zM564 293h1v1h-1zM565 294h1v1h-1zM566 295h1v1h-1zM567 296h1v1h-1zM568 297h1v1h-1zM569 298h1v1h-1zM570 299h1v1h-1zM571 300h1v1h-1zM572 301h1v1h-1zM573 302h2v1h-2zM575 303h1v1h-1zM576 304h1v1h-1zM577 305h1v1h-1zM578 306h1v1h-1zM579 307h1v1h-1zM580 308h2v1h-2zM582 309h1v1h-1zM583 310h1v1h-1zM584 311h2v1h-2zM586 312h3v1h-3zM589 313h2v1h-2zM591 314h3v1h-3zM594 315h2v1h-2zM596 316h1v1h-1zM597 317h2v1h-2zM599 318h1v1h-1zM600 319h1v1h-1zM601 320h2v1h-2zM603 321h1v1h-1zM604 322h1v1h-1zM605 323h2v1h-2zM607 324h2v1h-2zM609 325h2v1h-2zM611 326h2v1h-2zM613 327h3v1h-3zM616 328h2v1h-2zM618 329h3v1h-3zM621 330h4v1h-4zM625 331h4v1h-4zM629 332h6v1h-6zM635 331h6v1h-6zM641 330h5v1h-5zM646 329h3v1h-3zM649 328h2v1h-2zM651 327h1v1h-1zM652 326h1v1h-1zM653 325h1v1h-1zM654 324h1v1h-1zM655 323h2v1h-2zM657 322h1v1h-1zM658 321h1v1h-1zM659 320h1v1h-1zM660 319h1v1h-1zM661 318h2v1h-2zM663 317h2v1h-2zM665 316h2v1h-2zM667 315h2v1h-2zM669 314h2v1h-2zM671 313h2v1h-2zM673 312h1v1h-1zM674 311h1v1h-1zM675 310h2v1h-2zM677 309h1v1h-1zM678 308h1v1h-1zM679 307h1v1h-1zM680 306h1v1h-1zM681 305h2v1h-2zM683 304h1v1h-1zM684 303h1v1h-1zM685 302h1v1h-1zM686 301h1v1h-1zM687 300h1v1h-1zM688 299h2v1h-2zM690 298h1v1h-1zM691 297h1v1h-1zM692 296h1v1h-1zM693 295h1v1h-1zM694 294h2v1h-2zM696 293h1v1h-1zM697 292h2v1h-2zM699 291h2v1h-2zM701 290h3v1h-3zM704 289h2v1h-2zM706 288h6v1h-6zM712 287h8v1h-8zM720 288h6v1h-6zM726 289h5v1h-5zM731 290h4v1h-4zM735 291h4v1h-4zM739 292h2v1h-2zM741 293h2v1h-2zM743 294h2v1h-2zM745 295h2v1h-2zM747 296h2v1h-2zM749 297h2v1h-2zM751 298h2v1h-2zM753 299h2v1h-2zM755 300h2v1h-2zM757 301h2v1h-2zM759 302h2v1h-2zM761 303h2v1h-2zM763 304h1v1h-1zM764 305h2v1h-2zM766 306h1v1h-1zM767 307h1v1h-1zM768 308h2v1h-2zM770 309h1v1h-1zM771 310h1v1h-1zM772 311h2v1h-2zM774 312h3v1h-3zM777 313h4v1h-4zM781 314h4v1h-4zM785 315h4v1h-4zM789 316h3v1h-3zM792 317h3v1h-3zM795 318h3v1h-3zM798 319h3v1h-3zM801 320h3v1h-3zM804 321h4v1h-4zM808 322h3v1h-3zM811 321h4v1h-4zM815 320h4v1h-4zM819 319h3v1h-3zM822 318h2v1h-2zM824 317h1v1h-1zM825 316h2v1h-2zM827 315h1v1h-1zM828 314h1v1h-1zM829 313h2v1h-2zM831 312h1v1h-1zM832 311h2v1h-2zM834 310h1v1h-1zM835 309h1v1h-1zM836 308h1v1h-1zM837 307h2v1h-2zM839 306h1v1h-1zM840 305h1v1h-1zM841 304h1v1h-1zM842 303h1v1h-1zM843 302h2v1h-2zM845 301h1v1h-1zM846 300h1v1h-1zM847 299h1v1h-1zM848 298h1v1h-1zM849 297h1v1h-1zM850 296h1v1h-1zM851 295h1v1h-1zM852 294h1v1h-1zM853 293h1v1h-1zM854 292h1v1h-1zM855 291h1v1h-1zM856 290h1v1h-1zM857 288h1v2h-1zM858 286h1v2h-1zM859 285h1v1h-1zM860 283h1v2h-1zM861 282h1v1h-1zM862 280h1v2h-1zM863 278h1v2h-1zM864 277h1v1h-1zM865 276h1v1h-1zM866 275h1v1h-1zM867 274h1v1h-1zM868 273h1v1h-1zM869 272h1v1h-1zM870 271h1v1h-1zM871 270h1v1h-1zM872 269h1v1h-1zM873 268h1v1h-1zM874 267h1v1h-1zM875 266h1v1h-1zM876 265h1v1h-1zM877 264h1v1h-1zM878 263h1v1h-1zM879 262h2v1h-2zM881 261h1v1h-1zM882 260h1v1h-1zM883 259h2v1h-2zM885 258h2v1h-2zM887 257h2v1h-2zM889 256h3v1h-3zM892 255h2v1h-2zM894 254h4v1h-4zM898 255h5v1h-5zM903 256h19v1h-19zM922 255h2v1h-2zM924 254h2v1h-2zM926 253h2v1h-2zM928 252h6v1h-6zM934 251h13v1h-13zM947 250h9v1h-9zM956 249h2v1h-2zM958 248h2v1h-2zM960 247h2v1h-2zM962 246h2v1h-2zM964 245h2v1h-2zM966 244h2v1h-2zM968 243h5v1h-5zM973 242h7v1h-7zM980 241h5v1h-5zM985 240h3v1h-3zM988 239h3v1h-3zM991 238h3v1h-3zM994 237h16v1h-16zM1010 236h5v1h-5zM1015 235h3v1h-3zM1018 236h2v1h-2zM1020 237h2v1h-2zM1022 238h2v1h-2zM1024 239h2v1h-2zM1026 240h2v1h-2zM1028 241h2v1h-2zM1030 242h1v1h-1zM1031 243h1v1h-1zM1032 244h1v1h-1zM1033 245h1v1h-1zM1034 246h1v1h-1zM1035 247h1v1h-1zM1036 248h1v1h-1zM1037 249h1v1h-1zM1038 250h1v1h-1zM1039 251h1v1h-1zM1040 252h1v1h-1zM1041 253h1v1h-1zM1042 254h1v1h-1zM1043 255h1v2h-1zM1044 257h1v1h-1zM1045 258h1v1h-1zM1046 259h1v1h-1zM1047 260h1v1h-1zM1048 261h1v2h-1zM1049 263h1v1h-1zM1050 264h1v1h-1zM1051 265h1v1h-1zM1052 266h1v2h-1zM1053 268h1v2h-1zM1054 270h1v1h-1zM1055 271h1v2h-1zM1056 273h1v2h-1zM1057 275h1v2h-1zM1058 277h1v1h-1zM1059 278h1v2h-1zM1060 280h1v2h-1zM1061 282h1v1h-1zM1062 283h1v2h-1zM1063 285h1v2h-1zM1064 287h1v2h-1zM1065 289h1v2h-1zM1066 291h1v2h-1zM1067 293h1v2h-1zM1068 295h1v2h-1zM1069 297h1v2h-1zM1070 299h1v2h-1zM1071 301h1v2h-1zM1072 303h1v2h-1zM1073 305h1v2h-1zM1074 307h1v2h-1zM1075 309h1v2h-1zM1076 311h1v2h-1zM1077 313h1v2h-1zM1078 315h1v2h-1zM1079 317h1v2h-1zM1080 319h1v2h-1zM1081 321h1v3h-1zM1082 324h1v2h-1zM1083 326h1v2h-1zM1084 328h1v2h-1zM1085 330h1v2h-1zM1086 332h1v3h-1zM1087 335h1v2h-1zM1088 337h1v2h-1zM1089 339h1v2h-1zM1090 341h1v3h-1zM1091 344h1v2h-1zM1092 346h1v3h-1zM1093 349h1v2h-1zM1094 351h1v3h-1zM1095 354h1v2h-1zM1096 356h1v3h-1zM1097 359h1v2h-1zM1098 361h1v3h-1zM1099 364h1v2h-1zM1100 366h1v3h-1zM1101 369h1v2h-1zM1102 371h1v3h-1zM1103 374h1v3h-1zM1104 377h1v2h-1zM1105 379h1v2h-1zM1106 381h1v2h-1zM1107 383h1v1h-1zM1108 384h1v2h-1zM1109 386h1v1h-1zM1110 387h1v2h-1zM1111 389h1v1h-1zM1112 390h1v2h-1zM1113 392h1v1h-1zM1114 393h1v2h-1zM1115 395h1v1h-1zM1116 396h1v2h-1zM1117 398h1v1h-1zM1118 399h1v2h-1zM1119 401h1v1h-1z" fill="#FF0000"/>
<path d="M18 109h1v1h-1zM19 110h2v1h-2zM21 111h2v1h-2zM23 112h2v1h-2zM25 113h2v1h-2zM27 114h1v1h-1zM28 115h2v1h-2zM30 116h1v1h-1zM31 117h1v1h-1zM32 118h2v1h-2zM34 119h1v1h-1zM35 120h1v1h-1zM36 121h1v1h-1zM37 122h1v1h-1zM38 123h1v2h-1zM39 125h1v1h-1zM40 126h1v1h-1zM41 127h1v1h-1zM42 128h1v1h-1zM43 129h1v2h-1zM44 131h1v1h-1zM45 132h1v1h-1zM46 133h1v2h-1zM47 135h1v1h-1zM48 136h1v2h-1zM49 138h1v3h-1zM50 141h1v4h-1zM51 145h1v3h-1zM52 148h1v3h-1zM53 151h1v2h-1zM54 153h1v3h-1zM55 156h1v3h-1zM56 159h1v2h-1zM57 161h1v2h-1zM58 163h1v2h-1zM59 165h1v2h-1zM60 167h1v2h-1zM61 169h1v2h-1zM62 171h1v2h-1zM63 173h1v2h-1zM64 175h1v2h-1zM65 177h1v1h-1zM66 178h1v1h-1zM67 179h2v1h-2zM69 180h1v1h-1zM70 181h1v1h-1zM71 182h2v1h-2zM73 183h1v1h-1zM74 184h2v1h-2zM76 185h1v1h-1zM77 186h2v1h-2zM79 187h2v1h-2zM81 188h1v1h-1zM82 189h2v1h-2zM84 190h2v1h-2zM86 191h2v1h-2zM88 192h2v1h-2zM90 193h2v1h-2zM92 194h4v1h-4zM96 195h5v1h-5zM101 196h4v1h-4zM105 195h2v1h-2zM107 194h2v1h-2zM109 193h2v1h-2zM111 192h1v1h-1zM112 191h1v1h-1zM113 189h1v2h-1zM114 188h1v1h-1zM115 187h1v1h-1zM116 185h1v2h-1zM117 184h1v1h-1zM118 183h1v1h-1zM119 182h2v1h-2zM121 181h1v1h-1zM122 180h1v1h-1zM123 179h2v1h-2zM125 178h2v1h-2zM127 177h2v1h-2zM129 176h1v1h-1zM130 175h1v1h-1zM131 174h1v1h-1zM132 173h2v1h-2zM134 172h1v1h-1zM135 171h1v1h-1zM136 170h2v1h-2zM138 169h2v1h-2zM140 168h3v1h-3zM143 167h2v1h-2zM145 166h1v1h-1zM146 165h1v1h-1zM147 164h1v1h-1zM148 163h1v1h-1zM149 162h1v1h-1zM150 161h1v1h-1zM151 160h1v1h-1zM152 159h2v1h-2zM154 158h1v1h-1zM155 157h2v1h-2zM157 156h2v1h-2zM159 155h2v1h-2zM161 154h4v1h-4zM165 153h6v1h-6zM171 154h5v1h-5zM176 153h2v1h-2zM178 152h2v1h-2zM180 151h2v1h-2zM182 150h2v1h-2zM184 149h2v1h-2zM186 148h1v1h-1zM187 147h2v1h-2zM189 146h1v1h-1zM190 145h2v1h-2zM192 144h3v1h-3zM195 145h4v1h-4zM199 146h1v1h-1zM200 147h1v1h-1zM201 148h2v1h-2zM203 149h1v1h-1zM204 150h2v1h-2zM206 151h2v1h-2zM208 152h3v1h-3zM211 153h3v1h-3zM214 152h4v1h-4zM218 151h4v1h-4zM222 150h2v1h-2zM224 149h2v1h-2zM226 148h2v1h-2zM228 147h2v1h-2zM230 146h2v1h-2zM232 145h1v1h-1zM233 146h1v1h-1zM234 147h1v1h-1zM235 148h1v2h-1zM236 150h1v1h-1zM237 151h1v1h-1zM238 152h2v1h-2zM240 153h3v1h-3zM243 154h3v1h-3zM246 155h3v1h-3zM249 154h3v1h-3zM252 153h4v1h-4zM256 152h4v1h-4zM260 151h4v1h-4zM264 150h4v1h-4zM268 149h5v1h-5zM273 148h6v1h-6zM279 147h5v1h-5zM284 146h2v1h-2zM286 145h2v1h-2zM288 144h2v1h-2zM290 142h1v2h-1zM291 140h1v2h-1zM292 138h1v2h-1zM293 136h1v2h-1zM294 134h1v2h-1zM295 132h1v2h-1zM296 130h9v1h-9zM296 131h1v1h-1zM305 129h1v1h-1zM306 128h1v1h-1zM307 127h1v1h-1zM308 125h1v2h-1zM309 124h1v1h-1zM310 123h1v1h-1zM311 122h1v1h-1zM312 121h1v1h-1zM313 119h1v2h-1zM314 118h1v1h-1zM315 117h1v1h-1zM316 115h1v2h-1zM317 114h1v1h-1zM318 113h1v1h-1zM319 111h1v2h-1zM320 110h1v1h-1zM321 109h1v1h-1zM322 108h1v1h-1zM323 107h1v1h-1zM324 105h1v2h-1zM325 104h1v1h-1zM326 103h1v1h-1zM327 102h1v1h-1zM328 101h1v1h-1zM329 100h2v1h-2zM331 99h1v1h-1zM332 98h2v1h-2zM334 97h1v1h-1zM335 96h2v1h-2zM337 95h1v1h-1zM338 94h2v1h-2zM340 93h1v1h-1zM341 92h1v1h-1zM342 91h2v1h-2zM344 90h2v1h-2zM346 91h2v1h-2zM348 92h3v1h-3zM351 93h3v1h-3zM354 92h2v1h-2zM356 91h2v1h-2zM358 90h2v1h-2zM360 91h2v1h-2zM362 92h2v1h-2zM364 93h2v1h-2zM366 94h2v1h-2zM368 95h1v1h-1zM369 96h1v2h-1zM370 98h1v1h-1zM371 99h1v1h-1zM372 100h1v1h-1zM373 101h1v2h-1zM374 103h1v1h-1zM375 104h1v2h-1zM376 106h1v2h-1zM377 108h1v3h-1zM378 111h1v2h-1zM379 113h1v2h-1zM380 115h1v3h-1zM381 118h1v2h-1zM382 120h1v3h-1zM383 123h1v2h-1zM384 125h1v2h-1zM385 127h1v3h-1zM386 130h1v2h-1zM387 132h1v3h-1zM388 135h1v2h-1zM389 137h1v2h-1zM390 139h1v3h-1zM391 142h1v2h-1zM392 144h1v3h-1zM393 147h1v2h-1zM394 149h1v3h-1zM395 152h1v2h-1zM396 154h1v3h-1zM397 157h1v2h-1zM398 159h1v2h-1zM399 161h1v2h-1zM400 163h1v2h-1zM401 165h1v2h-1zM402 167h1v1h-1zM403 168h1v2h-1zM404 170h1v2h-1zM405 172h1v2h-1zM406 174h1v1h-1zM407 175h1v2h-1zM408 177h1v2h-1zM409 179h1v1h-1zM410 180h1v2h-1zM411 182h1v2h-1zM412 184h1v2h-1zM413 186h1v1h-1zM414 187h1v2h-1zM415 189h1v2h-1zM416 191h1v1h-1zM417 192h1v2h-1zM418 194h1v1h-1zM419 195h1v2h-1zM420 197h1v1h-1zM421 198h1v2h-1zM422 200h1v2h-1zM423 202h1v1h-1zM424 203h1v2h-1zM425 205h1v1h-1zM426 206h1v1h-1zM427 207h1v1h-1zM428 208h1v1h-1zM429 209h1v2h-1zM430 211h1v1h-1zM431 212h1v1h-1zM432 213h1v1h-1zM433 214h2v1h-2zM435 215h4v1h-4zM439 216h10v1h-10zM449 217h1v1h-1zM450 218h1v1h-1zM451 219h1v1h-1zM452 220h1v1h-1zM453 221h1v2h-1zM454 223h1v1h-1zM455 224h1v1h-1zM456 225h1v1h-1zM457 226h1v1h-1zM458 227h1v1h-1zM459 228h1v1h-1zM460 229h1v1h-1zM461 230h1v1h-1zM462 231h2v1h-2zM464 232h1v1h-1zM465 233h1v1h-1zM466 234h1v1h-1zM467 235h1v1h-1zM468 236h1v1h-1zM469 237h2v1h-2zM471 238h1v1h-1zM472 239h1v1h-1zM473 240h2v1h-2zM475 241h1v1h-1zM476 242h1v1h-1zM477 243h1v1h-1zM478 244h1v1h-1zM479 245h1v1h-1zM480 246h2v1h-2zM482 247h2v1h-2zM484 248h3v1h-3zM487 249h11v1h-11zM498 250h2v1h-2zM500 251h2v1h-2zM502 252h2v1h-2zM504 253h2v1h-2zM506 254h2v1h-2zM508 255h2v1h-2zM510 256h2v1h-2zM512 257h1v1h-1zM513 258h1v1h-1zM514 259h1v1h-1zM515 260h1v1h-1zM516 261h2v1h-2zM518 262h1v1h-1zM519 263h1v1h-1zM520 264h1v1h-1zM521 265h1v1h-1zM522 266h1v2h-1zM523 268h1v1h-1zM524 269h1v1h-1zM525 270h1v2h-1zM526 272h1v1h-1zM527 273h1v1h-1zM528 274h1v2h-1zM529 276h1v1h-1zM530 277h1v2h-1zM531 279h1v2h-1zM532 281h1v2h-1zM533 283h1v2h-1zM534 285h1v2h-1zM535 287h1v2h-1zM536 289h1v2h-1zM537 291h1v2h-1zM538 293h1v2h-1zM539 295h1v2h-1zM540 297h1v2h-1zM541 299h1v2h-1zM542 301h1v2h-1zM543 303h1v2h-1zM544 305h1v2h-1zM545 307h1v2h-1zM546 309h1v1h-1zM547 310h1v2h-1zM548 312h1v1h-1zM549 313h1v1h-1zM550 314h1v2h-1zM551 316h1v1h-1zM552 317h1v1h-1zM553 318h1v2h-1zM554 320h1v1h-1zM555 321h1v1h-1zM556 322h1v1h-1zM557 323h1v1h-1zM558 324h1v2h-1zM559 326h1v1h-1zM560 327h1v1h-1zM561 328h1v1h-1zM562 329h1v1h-1zM563 330h1v1h-1zM564 331h1v2h-1zM565 333h1v1h-1zM566 334h1v1h-1zM567 335h1v1h-1zM568 336h1v2h-1zM569 338h1v1h-1zM570 339h1v1h-1zM571 340h2v1h-2zM573 341h1v1h-1zM574 342h1v1h-1zM575 343h2v1h-2zM577 344h2v1h-2zM579 345h4v1h-4zM583 346h2v1h-2zM585 345h2v1h-2zM587 344h1v1h-1zM588 343h2v1h-2zM590 342h2v1h-2zM592 341h1v1h-1zM593 340h1v1h-1zM594 339h1v1h-1zM595 338h1v1h-1zM596 337h1v1h-1zM597 336h1v1h-1zM598 335h1v1h-1zM599 334h1v1h-1zM600 333h1v1h-1zM601 332h2v1h-2zM603 331h4v1h-4zM607 330h6v1h-6zM613 329h5v1h-5zM618 328h2v1h-2zM620 327h1v1h-1zM621 326h2v1h-2zM623 325h2v1h-2zM625 324h1v1h-1zM626 323h2v1h-2zM628 322h2v1h-2zM630 321h2v1h-2zM632 320h2v1h-2zM634 319h2v1h-2zM636 318h2v1h-2zM638 317h2v1h-2zM640 316h9v1h-9zM649 315h2v1h-2zM651 314h1v1h-1zM652 313h2v1h-2zM654 312h2v1h-2zM656 311h1v1h-1zM657 310h1v1h-1zM658 308h1v2h-1zM659 307h1v1h-1zM660 306h1v1h-1zM661 305h1v1h-1zM662 303h1v2h-1zM663 302h1v1h-1zM664 301h1v1h-1zM665 300h2v1h-2zM667 299h1v1h-1zM668 298h1v1h-1zM669 297h2v1h-2zM671 296h1v1h-1zM672 295h2v1h-2zM674 294h1v1h-1zM675 292h1v2h-1zM676 291h1v1h-1zM677 290h1v1h-1zM678 288h1v2h-1zM679 287h1v1h-1zM680 286h1v1h-1zM681 284h1v2h-1zM682 283h1v1h-1zM683 282h1v1h-1zM684 280h1v2h-1zM685 279h1v1h-1zM686 278h1v1h-1zM687 276h1v2h-1zM688 275h1v1h-1zM689 274h1v1h-1zM690 272h1v2h-1zM691 271h1v1h-1zM692 270h1v1h-1zM693 269h2v1h-2zM695 268h1v1h-1zM696 267h1v1h-1zM697 266h2v1h-2zM699 265h2v1h-2zM701 264h4v1h-4zM705 263h3v1h-3zM708 264h4v1h-4zM712 265h2v1h-2zM714 266h1v1h-1zM715 267h1v1h-1zM716 268h1v1h-1zM717 269h1v1h-1zM718 270h1v1h-1zM719 271h1v1h-1zM720 272h1v1h-1zM721 273h1v1h-1zM722 274h1v1h-1zM723 275h1v1h-1zM724 276h1v1h-1zM725 277h1v1h-1zM726 278h1v1h-1zM727 279h1v1h-1zM728 280h1v1h-1zM729 281h1v2h-1zM730 283h1v2h-1zM731 285h1v2h-1zM732 287h1v2h-1zM733 289h1v2h-1zM734 291h1v2h-1zM735 293h1v2h-1zM736 295h1v2h-1zM737 297h1v2h-1zM738 299h1v1h-1zM739 300h1v2h-1zM740 302h1v2h-1zM741 304h1v2h-1zM742 306h1v3h-1zM743 309h1v3h-1zM744 312h1v2h-1zM745 314h1v3h-1zM746 317h1v3h-1zM747 320h1v2h-1zM748 322h1v2h-1zM749 324h1v2h-1zM750 326h1v2h-1zM751 328h1v2h-1zM752 330h1v2h-1zM753 332h1v2h-1zM754 334h1v2h-1zM755 336h1v1h-1zM756 337h1v2h-1zM757 339h1v1h-1zM758 340h1v1h-1zM759 341h1v1h-1zM760 342h1v1h-1zM761 343h1v2h-1zM762 345h1v1h-1zM763 346h1v1h-1zM764 347h1v1h-1zM765 348h1v2h-1zM766 350h1v1h-1zM767 351h2v1h-2zM769 352h4v1h-4zM773 353h5v1h-5zM778 352h4v1h-4zM782 351h3v1h-3zM785 350h1v1h-1zM786 348h1v2h-1zM787 347h1v1h-1zM788 346h1v1h-1zM789 345h1v1h-1zM790 344h1v1h-1zM791 342h1v2h-1zM792 341h1v1h-1zM793 340h1v1h-1zM794 338h1v2h-1zM795 337h1v1h-1zM796 335h1v2h-1zM797 334h1v1h-1zM798 332h1v2h-1zM799 331h1v1h-1zM800 329h1v2h-1zM801 328h1v1h-1zM802 326h1v2h-1zM803 324h1v2h-1zM804 322h1v2h-1zM805 320h1v2h-1zM806 318h1v2h-1zM807 316h1v2h-1zM808 314h1v2h-1zM809 312h1v2h-1zM810 310h1v2h-1zM811 308h1v2h-1zM812 306h1v2h-1zM813 303h1v3h-1zM814 301h1v2h-1zM815 299h1v2h-1zM816 297h1v2h-1zM817 295h1v2h-1zM818 292h1v3h-1zM819 290h1v2h-1zM820 288h1v2h-1zM821 286h1v2h-1zM822 284h1v2h-1zM823 282h1v2h-1zM824 280h1v2h-1zM825 279h1v1h-1zM826 277h1v2h-1zM827 276h1v1h-1zM828 275h1v1h-1zM829 273h1v2h-1zM830 272h1v1h-1zM831 270h1v2h-1zM832 269h1v1h-1zM833 267h1v2h-1zM834 266h1v1h-1zM835 264h1v2h-1zM836 263h1v1h-1zM837 261h1v2h-1zM838 260h1v1h-1zM839 258h1v2h-1zM840 257h2v1h-2zM842 256h4v1h-4zM846 255h3v1h-3zM849 254h2v1h-2zM851 253h2v1h-2zM853 252h2v1h-2zM855 251h2v1h-2zM857 250h1v1h-1zM858 249h1v1h-1zM859 248h1v1h-1zM860 246h1v2h-1zM861 245h1v1h-1zM862 244h1v1h-1zM863 243h1v1h-1zM864 242h1v1h-1zM865 241h1v1h-1zM866 240h2v1h-2zM868 239h1v1h-1zM869 238h1v1h-1zM870 237h2v1h-2zM872 236h2v1h-2zM874 237h3v1h-3zM877 238h3v1h-3zM880 239h2v1h-2zM882 240h1v1h-1zM883 241h2v1h-2zM885 242h1v1h-1zM886 243h1v1h-1zM887 244h1v1h-1zM888 245h2v1h-2zM890 246h1v1h-1zM891 247h1v1h-1zM892 248h1v1h-1zM893 249h2v1h-2zM895 250h1v1h-1zM896 251h1v1h-1zM897 252h1v1h-1zM898 253h2v1h-2zM900 254h1v1h-1zM901 255h1v1h-1zM902 256h2v1h-2zM904 257h2v1h-2zM906 258h1v1h-1zM907 259h2v1h-2zM909 260h2v1h-2zM911 261h1v1h-1zM912 262h1v1h-1zM913 263h1v1h-1zM914 264h1v1h-1zM915 265h1v1h-1zM916 266h2v1h-2zM918 267h1v1h-1zM919 268h1v1h-1zM920 269h1v1h-1zM921 270h8v1h-8zM929 269h2v1h-2zM931 268h1v1h-1zM932 267h2v1h-2zM934 266h2v1h-2zM936 265h1v1h-1zM937 264h1v1h-1zM938 263h1v1h-1zM939 262h1v1h-1zM940 261h1v1h-1zM941 260h1v1h-1zM942 259h1v1h-1zM943 258h1v1h-1zM944 257h1v1h-1zM945 256h1v1h-1zM946 255h1v1h-1zM947 254h1v1h-1zM948 253h1v1h-1zM949 252h1v1h-1zM950 251h1v1h-1zM951 250h2v1h-2zM953 249h1v1h-1zM954 248h1v1h-1zM955 247h1v1h-1zM956 246h1v1h-1zM957 244h1v2h-1zM958 242h1v2h-1zM959 240h1v2h-1zM960 238h1v2h-1zM961 237h1v1h-1zM962 235h1v2h-1zM963 233h1v2h-1zM964 231h1v2h-1zM965 229h1v2h-1zM966 227h1v2h-1zM967 226h1v1h-1zM968 225h1v1h-1zM969 224h1v1h-1zM970 223h1v1h-1zM971 222h1v1h-1zM972 220h1v2h-1zM973 219h1v1h-1zM974 218h1v1h-1zM975 217h1v1h-1zM976 216h2v1h-2zM978 215h2v1h-2zM980 214h3v1h-3zM983 213h3v1h-3zM986 212h4v1h-4zM990 211h2v1h-2zM992 212h2v1h-2zM994 213h1v1h-1zM995 214h2v1h-2zM997 215h2v1h-2zM999 216h1v1h-1zM1000 217h2v1h-2zM1002 218h1v1h-1zM1003 219h2v1h-2zM1005 220h2v1h-2zM1007 221h1v1h-1zM1008 222h1v1h-1zM1009 223h1v1h-1zM1010 224h1v1h-1zM1011 225h1v1h-1zM1012 226h2v1h-2zM1014 227h1v1h-1zM1015 228h1v1h-1zM1016 229h1v1h-1zM1017 230h1v2h-1zM1018 232h1v4h-1zM1019 236h1v3h-1zM1020 239h1v4h-1zM1021 243h1v4h-1zM1022 247h1v3h-1zM1023 250h1v2h-1zM1024 252h1v2h-1zM1025 254h1v2h-1zM1026 256h1v3h-1zM1027 259h1v2h-1zM1028 261h1v2h-1zM1029 263h1v2h-1zM1030 265h1v3h-1zM1031 268h1v2h-1zM1032 270h1v2h-1zM1033 272h1v3h-1zM1034 275h1v2h-1zM1035 277h1v3h-1zM1036 280h1v2h-1zM1037 282h1v2h-1zM1038 284h1v3h-1zM1039 287h1v2h-1zM1040 289h1v3h-1zM1041 292h1v2h-1zM1042 294h1v2h-1zM1043 296h1v3h-1zM1044 299h1v2h-1zM1045 301h1v3h-1zM1046 304h1v2h-1zM1047 306h1v3h-1zM1048 309h1v2h-1zM1049 311h1v3h-1zM1050 314h1v2h-1zM1051 316h1v3h-1zM1052 319h1v3h-1zM1053 322h1v2h-1zM1054 324h1v3h-1zM1055 327h1v2h-1zM1056 329h1v3h-1zM1057 332h1v3h-1zM1058 335h1v3h-1zM1059 338h1v2h-1zM1060 340h1v3h-1zM1061 343h1v3h-1zM1062 346h1v3h-1zM1063 349h1v3h-1zM1064 352h1v3h-1zM1065 355h1v2h-1zM1066 357h1v3h-1zM1067 360h1v3h-1zM1068 363h1v2h-1zM1069 365h1v3h-1zM1070 368h1v3h-1zM1071 371h1v2h-1zM1072 373h1v3h-1zM1073 376h1v2h-1zM1074 378h1v2h-1zM1075 380h1v3h-1zM1076 383h1v2h-1zM1077 385h1v3h-1zM1078 388h1v2h-1zM1079 390h1v2h-1zM1080 392h1v2h-1zM1081 394h1v2h-1zM1082 396h1v2h-1zM1083 398h1v2h-1zM1084 400h1v3h-1zM1085 403h1v2h-1zM1086 405h1v2h-1zM1087 407h1v2h-1zM1088 409h1v3h-1zM1089 412h1v2h-1zM1090 414h1v2h-1zM1091 416h1v2h-1zM1092 418h1v3h-1zM1093 421h1v2h-1zM1094 423h1v2h-1zM1095 425h1v2h-1zM1096 427h1v3h-1zM1097 430h1v2h-1zM1098 432h1v2h-1zM1099 434h1v2h-1zM1100 436h1v2h-1zM1101 438h1v2h-1zM1102 440h1v2h-1zM1103 442h1v2h-1zM1104 444h1v2h-1zM1105 446h2v1h-2zM1107 447h2v1h-2zM1109 448h2v1h-2zM1111 449h9v1h-9z" fill="#0000CD"/>
<rect x="8" y="99" width="1" height="1" fill="#0000CD"/>
<rect x="8" y="148" width="1415" height="3" fill="#FF0000"/>
<rect x="8" y="289" width="1415" height="3" fill="#FF0000"/>
<rect x="8" y="370" width="1415" height="3" fill="#FF0000"/>
<rect x="8" y="478" width="1415" height="3" fill="#00FF00"/>
<rect x="8" y="548" width="1415" height="3" fill="#0000FF"/>
<rect x="7" y="368" width="7" height="7" fill="#FF0000"/>
<rect x="10" y="371" width="1" height="1" fill="#fff"/>
<rect x="1417" y="368" width="7" height="7" fill="#FF0000"/>
<rect x="1420" y="371" width="1" height="1" fill="#fff"/>
<rect x="7" y="476" width="7" height="7" fill="#00FF00"/>
<rect x="10" y="479" width="1" height="1" fill="#fff"/>
<rect x="1417" y="476" width="7" height="7" fill="#00FF00"/>
<rect x="1420" y="479" width="1" height="1" fill="#fff"/>
<rect x="7" y="546" width="7" height="7" fill="#0000FF"/>
<rect x="10" y="549" width="1" height="1" fill="#fff"/>
<rect x="1417" y="546" width="7" height="7" fill="#0000FF"/>
<rect x="1420" y="549" width="1" height="1" fill="#fff"/>
</g>
<rect x="63" y="43" width="115" height="24" fill="#fff"/>
<rect x="11" y="43" width="52" height="24" fill="url(#gs)"/>
<rect x="178" y="43" width="52" height="24" fill="url(#gs)"/>
<rect x="11" y="67" width="109" height="40" fill="url(#gb)"/>
<rect x="122" y="67" width="108" height="40" fill="url(#gb)"/>
<rect x="11" y="43" width="52" height="1" fill="#0a0ab4"/>
<rect x="11" y="43" width="1" height="64" fill="#0a0ab4"/>
<rect x="178" y="43" width="52" height="1" fill="#0a0ab4"/>
<rect x="229" y="43" width="1" height="64" fill="#0a0ab4"/>
<rect x="11" y="106" width="109" height="1" fill="#0a0ab4"/>
<rect x="122" y="106" width="108" height="1" fill="#0a0ab4"/>
<rect x="119" y="67" width="1" height="40" fill="#0a0ab4"/>
<rect x="122" y="67" width="1" height="40" fill="#0a0ab4"/>
<rect x="62" y="43" width="1" height="24" fill="#0a0ab4"/>
<rect x="178" y="43" width="1" height="24" fill="#0a0ab4"/>
<rect x="63" y="67" width="57" height="1" fill="#0a0ab4"/>
<rect x="122" y="67" width="56" height="1" fill="#0a0ab4"/>
<rect x="15" y="66" width="44" height="1" fill="#1010a8"/>
<rect x="15" y="67" width="44" height="1" fill="#6a6af0"/>
<rect x="182" y="66" width="44" height="1" fill="#1010a8"/>
<rect x="182" y="67" width="44" height="1" fill="#6a6af0"/>
<rect x="65" y="43" width="111" height="22" fill="#a8a8a8"/>
<rect x="66" y="44" width="109" height="20" fill="#fff"/>
<rect x="66" y="44" width="20" height="20" fill="url(#gg)"/>
<rect x="86" y="44" width="1" height="20" fill="#a8a8a8"/>
<rect x="155" y="44" width="20" height="20" fill="url(#gg)"/>
<rect x="154" y="44" width="1" height="20" fill="#a8a8a8"/>
<polygon points="73,52 79,52 76,55.5" fill="#4a5fb0"/>
<polygon points="162,55 168,55 165,51.5" fill="#4a5fb0"/>
<text x="127.8" y="58" font-size="13" fill="#000" textLength="23" lengthAdjust="spacingAndGlyphs">1.00</text>
<text x="23.8" y="59" font-size="12" fill="#fff" textLength="25" lengthAdjust="spacingAndGlyphs">SELL</text>
<text x="191.8" y="59" font-size="12" fill="#fff" textLength="23" lengthAdjust="spacingAndGlyphs">BUY</text>
<text x="31.1" y="97.8" font-size="12" fill="#fff" textLength="23.9" lengthAdjust="spacingAndGlyphs" font-weight="bold">0.68</text>
<text x="141.1" y="97.8" font-size="12" fill="#fff" textLength="23.9" lengthAdjust="spacingAndGlyphs" font-weight="bold">0.68</text>
<text x="58.3" y="98.2" font-size="34" fill="#fff" textLength="34.5" lengthAdjust="spacingAndGlyphs" stroke="url(#gb)" stroke-width="0.6">05</text>
<text x="169.2" y="98.2" font-size="34" fill="#fff" textLength="35.5" lengthAdjust="spacingAndGlyphs" stroke="url(#gb)" stroke-width="0.6">07</text>
<text x="98.2" y="82" font-size="12" fill="#fff" textLength="6.7" lengthAdjust="spacingAndGlyphs" font-weight="bold">0</text>
<text x="209.3" y="82" font-size="12" fill="#fff" textLength="6.7" lengthAdjust="spacingAndGlyphs" font-weight="bold">1</text>
<polygon points="11,34 18,34 14.5,30" fill="#000"/>
<text x="23.9" y="34.9" font-size="9.6" fill="#000" textLength="68" lengthAdjust="spacingAndGlyphs" stroke="#000" stroke-width="0.12">AUDUSD-,Daily</text>
<text x="98.5" y="34.9" font-size="9.6" fill="#000" textLength="32.5" lengthAdjust="spacingAndGlyphs" stroke="#000" stroke-width="0.12">0.68095</text>
<text x="134.1" y="34.9" font-size="9.6" fill="#000" textLength="32.5" lengthAdjust="spacingAndGlyphs" stroke="#000" stroke-width="0.12">0.68164</text>
<text x="170" y="34.9" font-size="9.6" fill="#000" textLength="32.5" lengthAdjust="spacingAndGlyphs" stroke="#000" stroke-width="0.12">0.67889</text>
<text x="206.2" y="34.9" font-size="9.6" fill="#000" textLength="32.5" lengthAdjust="spacingAndGlyphs" stroke="#000" stroke-width="0.12">0.68050</text>
<text x="12.3" y="577.1" font-size="9.6" fill="#000" textLength="153.3" lengthAdjust="spacingAndGlyphs" stroke="#000" stroke-width="0.12">MACD(12,26,9) -0.005416 -0.004739</text>
<text x="12.3" y="681.9" font-size="9.6" fill="#000" textLength="67.6" lengthAdjust="spacingAndGlyphs" stroke="#000" stroke-width="0.12">RSI(14) 35.7540</text>
<g shape-rendering="crispEdges">
<rect x="8" y="594" width="1" height="1" fill="#c0c0c0"/>
<rect x="16" y="595" width="1" height="1" fill="#c0c0c0"/>
<rect x="24" y="595" width="1" height="8" fill="#c0c0c0"/>
<rect x="32" y="595" width="1" height="11" fill="#c0c0c0"/>
<rect x="40" y="595" width="1" height="13" fill="#c0c0c0"/>
<rect x="48" y="595" width="1" height="15" fill="#c0c0c0"/>
<rect x="56" y="595" width="1" height="22" fill="#c0c0c0"/>
<rect x="64" y="595" width="1" height="28" fill="#c0c0c0"/>
<rect x="72" y="595" width="1" height="29" fill="#c0c0c0"/>
<rect x="80" y="595" width="1" height="31" fill="#c0c0c0"/>
<rect x="88" y="595" width="1" height="30" fill="#c0c0c0"/>
<rect x="96" y="595" width="1" height="29" fill="#c0c0c0"/>
<rect x="104" y="595" width="1" height="25" fill="#c0c0c0"/>
<rect x="112" y="595" width="1" height="24" fill="#c0c0c0"/>
<rect x="120" y="595" width="1" height="21" fill="#c0c0c0"/>
<rect x="128" y="595" width="1" height="19" fill="#c0c0c0"/>
<rect x="136" y="595" width="1" height="16" fill="#c0c0c0"/>
<rect x="144" y="595" width="1" height="14" fill="#c0c0c0"/>
<rect x="152" y="595" width="1" height="8" fill="#c0c0c0"/>
<rect x="160" y="595" width="1" height="6" fill="#c0c0c0"/>
<rect x="168" y="595" width="1" height="7" fill="#c0c0c0"/>
<rect x="176" y="595" width="1" height="7" fill="#c0c0c0"/>
<rect x="184" y="595" width="1" height="4" fill="#c0c0c0"/>
<rect x="192" y="595" width="1" height="1" fill="#c0c0c0"/>
<rect x="200" y="595" width="1" height="1" fill="#c0c0c0"/>
<rect x="208" y="595" width="1" height="3" fill="#c0c0c0"/>
<rect x="216" y="595" width="1" height="2" fill="#c0c0c0"/>
<rect x="224" y="595" width="1" height="1" fill="#c0c0c0"/>
<rect x="232" y="595" width="1" height="1" fill="#c0c0c0"/>
<rect x="240" y="595" width="1" height="3" fill="#c0c0c0"/>
<rect x="248" y="595" width="1" height="1" fill="#c0c0c0"/>
<rect x="256" y="595" width="1" height="1" fill="#c0c0c0"/>
<rect x="264" y="595" width="1" height="1" fill="#c0c0c0"/>
<rect x="272" y="594" width="1" height="1" fill="#c0c0c0"/>
<rect x="280" y="593" width="1" height="2" fill="#c0c0c0"/>
<rect x="288" y="591" width="1" height="4" fill="#c0c0c0"/>
<rect x="296" y="586" width="1" height="9" fill="#c0c0c0"/>
<rect x="304" y="586" width="1" height="9" fill="#c0c0c0"/>
<rect x="312" y="582" width="1" height="13" fill="#c0c0c0"/>
<rect x="320" y="579" width="1" height="16" fill="#c0c0c0"/>
<rect x="328" y="576" width="1" height="19" fill="#c0c0c0"/>
<rect x="336" y="576" width="1" height="19" fill="#c0c0c0"/>
<rect x="344" y="574" width="1" height="21" fill="#c0c0c0"/>
<rect x="352" y="576" width="1" height="19" fill="#c0c0c0"/>
<rect x="360" y="577" width="1" height="18" fill="#c0c0c0"/>
<rect x="368" y="580" width="1" height="15" fill="#c0c0c0"/>
<rect x="376" y="586" width="1" height="9" fill="#c0c0c0"/>
<rect x="384" y="595" width="1" height="1" fill="#c0c0c0"/>
<rect x="392" y="595" width="1" height="11" fill="#c0c0c0"/>
<rect x="400" y="595" width="1" height="16" fill="#c0c0c0"/>
<rect x="408" y="595" width="1" height="19" fill="#c0c0c0"/>
<rect x="416" y="595" width="1" height="20" fill="#c0c0c0"/>
<rect x="424" y="595" width="1" height="22" fill="#c0c0c0"/>
<rect x="432" y="595" width="1" height="26" fill="#c0c0c0"/>
<rect x="440" y="595" width="1" height="30" fill="#c0c0c0"/>
<rect x="448" y="595" width="1" height="32" fill="#c0c0c0"/>
<rect x="456" y="595" width="1" height="36" fill="#c0c0c0"/>
<rect x="464" y="595" width="1" height="37" fill="#c0c0c0"/>
<rect x="472" y="595" width="1" height="37" fill="#c0c0c0"/>
<rect x="480" y="595" width="1" height="37" fill="#c0c0c0"/>
<rect x="488" y="595" width="1" height="37" fill="#c0c0c0"/>
<rect x="496" y="595" width="1" height="36" fill="#c0c0c0"/>
<rect x="504" y="595" width="1" height="36" fill="#c0c0c0"/>
<rect x="512" y="595" width="1" height="39" fill="#c0c0c0"/>
<rect x="520" y="595" width="1" height="42" fill="#c0c0c0"/>
<rect x="528" y="595" width="1" height="45" fill="#c0c0c0"/>
<rect x="536" y="595" width="1" height="49" fill="#c0c0c0"/>
<rect x="544" y="595" width="1" height="55" fill="#c0c0c0"/>
<rect x="552" y="595" width="1" height="55" fill="#c0c0c0"/>
<rect x="560" y="595" width="1" height="53" fill="#c0c0c0"/>
<rect x="568" y="595" width="1" height="54" fill="#c0c0c0"/>
<rect x="576" y="595" width="1" height="55" fill="#c0c0c0"/>
<rect x="584" y="595" width="1" height="52" fill="#c0c0c0"/>
<rect x="592" y="595" width="1" height="48" fill="#c0c0c0"/>
<rect x="600" y="595" width="1" height="44" fill="#c0c0c0"/>
<rect x="608" y="595" width="1" height="41" fill="#c0c0c0"/>
<rect x="616" y="595" width="1" height="37" fill="#c0c0c0"/>
<rect x="624" y="595" width="1" height="35" fill="#c0c0c0"/>
<rect x="632" y="595" width="1" height="34" fill="#c0c0c0"/>
<rect x="640" y="595" width="1" height="29" fill="#c0c0c0"/>
<rect x="648" y="595" width="1" height="27" fill="#c0c0c0"/>
<rect x="656" y="595" width="1" height="20" fill="#c0c0c0"/>
<rect x="664" y="595" width="1" height="13" fill="#c0c0c0"/>
<rect x="672" y="595" width="1" height="9" fill="#c0c0c0"/>
<rect x="680" y="595" width="1" height="5" fill="#c0c0c0"/>
<rect x="688" y="595" width="1" height="1" fill="#c0c0c0"/>
<rect x="696" y="593" width="1" height="2" fill="#c0c0c0"/>
<rect x="704" y="594" width="1" height="1" fill="#c0c0c0"/>
<rect x="712" y="594" width="1" height="1" fill="#c0c0c0"/>
<rect x="720" y="595" width="1" height="1" fill="#c0c0c0"/>
<rect x="728" y="595" width="1" height="2" fill="#c0c0c0"/>
<rect x="736" y="595" width="1" height="13" fill="#c0c0c0"/>
<rect x="744" y="595" width="1" height="17" fill="#c0c0c0"/>
<rect x="752" y="595" width="1" height="23" fill="#c0c0c0"/>
<rect x="760" y="595" width="1" height="24" fill="#c0c0c0"/>
<rect x="768" y="595" width="1" height="25" fill="#c0c0c0"/>
<rect x="776" y="595" width="1" height="22" fill="#c0c0c0"/>
<rect x="784" y="595" width="1" height="18" fill="#c0c0c0"/>
<rect x="792" y="595" width="1" height="14" fill="#c0c0c0"/>
<rect x="800" y="595" width="1" height="7" fill="#c0c0c0"/>
<rect x="808" y="595" width="1" height="4" fill="#c0c0c0"/>
<rect x="816" y="595" width="1" height="1" fill="#c0c0c0"/>
<rect x="824" y="589" width="1" height="6" fill="#c0c0c0"/>
<rect x="832" y="583" width="1" height="12" fill="#c0c0c0"/>
<rect x="840" y="578" width="1" height="17" fill="#c0c0c0"/>
<rect x="848" y="580" width="1" height="15" fill="#c0c0c0"/>
<rect x="856" y="579" width="1" height="16" fill="#c0c0c0"/>
<rect x="864" y="575" width="1" height="20" fill="#c0c0c0"/>
<rect x="872" y="573" width="1" height="22" fill="#c0c0c0"/>
<rect x="880" y="575" width="1" height="20" fill="#c0c0c0"/>
<rect x="888" y="577" width="1" height="18" fill="#c0c0c0"/>
<rect x="896" y="580" width="1" height="15" fill="#c0c0c0"/>
<rect x="904" y="586" width="1" height="9" fill="#c0c0c0"/>
<rect x="912" y="589" width="1" height="6" fill="#c0c0c0"/>
<rect x="920" y="589" width="1" height="6" fill="#c0c0c0"/>
<rect x="928" y="585" width="1" height="10" fill="#c0c0c0"/>
<rect x="936" y="582" width="1" height="13" fill="#c0c0c0"/>
<rect x="944" y="579" width="1" height="16" fill="#c0c0c0"/>
<rect x="952" y="578" width="1" height="17" fill="#c0c0c0"/>
<rect x="960" y="578" width="1" height="17" fill="#c0c0c0"/>
<rect x="968" y="573" width="1" height="22" fill="#c0c0c0"/>
<rect x="976" y="572" width="1" height="23" fill="#c0c0c0"/>
<rect x="984" y="571" width="1" height="24" fill="#c0c0c0"/>
<rect x="992" y="572" width="1" height="23" fill="#c0c0c0"/>
<rect x="1000" y="575" width="1" height="20" fill="#c0c0c0"/>
<rect x="1008" y="581" width="1" height="14" fill="#c0c0c0"/>
<rect x="1016" y="588" width="1" height="7" fill="#c0c0c0"/>
<rect x="1024" y="595" width="1" height="1" fill="#c0c0c0"/>
<rect x="1032" y="595" width="1" height="8" fill="#c0c0c0"/>
<rect x="1040" y="595" width="1" height="14" fill="#c0c0c0"/>
<rect x="1048" y="595" width="1" height="21" fill="#c0c0c0"/>
<rect x="1056" y="595" width="1" height="29" fill="#c0c0c0"/>
<rect x="1064" y="595" width="1" height="39" fill="#c0c0c0"/>
<rect x="1072" y="595" width="1" height="46" fill="#c0c0c0"/>
<rect x="1080" y="595" width="1" height="52" fill="#c0c0c0"/>
<rect x="1088" y="595" width="1" height="59" fill="#c0c0c0"/>
<rect x="1096" y="595" width="1" height="64" fill="#c0c0c0"/>
<rect x="1104" y="595" width="1" height="67" fill="#c0c0c0"/>
<rect x="1112" y="595" width="1" height="64" fill="#c0c0c0"/>
<rect x="1120" y="595" width="1" height="61" fill="#c0c0c0"/>
<path d="M8 600h3v1h-3zM14 600h2v1h-2zM16 599h1v1h-1zM20 599h3v1h-3zM26 599h3v1h-3zM32 599h1v1h-1zM33 600h2v1h-2zM38 600h3v1h-3zM44 601h3v1h-3zM50 602h1v1h-1zM51 603h2v1h-2zM56 604h2v1h-2zM58 605h1v1h-1zM62 606h1v1h-1zM63 607h2v1h-2zM68 608h1v1h-1zM69 609h2v1h-2zM74 611h2v1h-2zM76 612h1v1h-1zM80 613h1v1h-1zM81 614h2v1h-2zM86 615h1v1h-1zM87 616h2v1h-2zM92 617h1v1h-1zM93 618h2v1h-2zM98 619h1v1h-1zM99 620h2v1h-2zM104 620h2v1h-2zM106 621h1v1h-1zM110 621h3v1h-3zM116 622h3v1h-3zM122 622h3v1h-3zM128 621h3v1h-3zM134 620h3v1h-3zM140 619h3v1h-3zM146 617h3v1h-3zM152 615h3v1h-3zM158 613h3v1h-3zM164 611h3v1h-3zM170 610h3v1h-3zM176 609h1v1h-1zM177 608h2v1h-2zM182 607h1v1h-1zM183 606h2v1h-2zM188 605h1v1h-1zM189 604h2v1h-2zM194 603h3v1h-3zM200 602h3v1h-3zM206 601h3v1h-3zM212 600h1v1h-1zM213 599h2v1h-2zM218 598h3v1h-3zM224 598h3v1h-3zM230 598h3v1h-3zM236 597h3v1h-3zM242 596h3v1h-3zM248 596h3v1h-3zM254 596h3v1h-3zM260 596h3v1h-3zM266 596h3v1h-3zM272 596h3v1h-3zM278 595h3v1h-3zM284 594h3v1h-3zM290 594h1v1h-1zM291 593h2v1h-2zM296 593h3v1h-3zM302 592h3v1h-3zM308 591h2v1h-2zM310 590h1v1h-1zM314 589h3v1h-3zM320 588h2v1h-2zM322 587h1v1h-1zM326 586h3v1h-3zM332 584h3v1h-3zM338 583h2v1h-2zM340 582h1v1h-1zM344 581h3v1h-3zM350 580h3v1h-3zM356 579h3v1h-3zM362 578h3v1h-3zM368 578h1v1h-1zM369 577h2v1h-2zM374 577h3v1h-3zM380 578h2v1h-2zM382 579h1v1h-1zM386 580h3v1h-3zM392 582h1v1h-1zM393 583h2v1h-2zM398 585h1v1h-1zM399 586h2v1h-2zM404 588h1v1h-1zM405 589h1v1h-1zM406 590h1v1h-1zM410 592h2v1h-2zM412 593h1v1h-1zM416 595h1v1h-1zM417 596h2v1h-2zM422 598h1v1h-1zM423 599h2v1h-2zM428 602h1v1h-1zM429 603h1v1h-1zM430 604h1v1h-1zM434 606h1v1h-1zM435 607h1v1h-1zM436 608h1v1h-1zM440 610h1v1h-1zM441 611h2v1h-2zM446 613h1v1h-1zM447 614h2v1h-2zM452 616h1v1h-1zM453 617h2v1h-2zM458 619h3v1h-3zM464 621h2v1h-2zM466 622h1v1h-1zM470 623h1v1h-1zM471 624h2v1h-2zM476 625h2v1h-2zM478 626h1v1h-1zM482 627h3v1h-3zM488 628h3v1h-3zM494 629h3v1h-3zM500 630h3v1h-3zM506 630h2v1h-2zM508 631h1v1h-1zM512 631h3v1h-3zM518 632h1v1h-1zM519 633h2v1h-2zM524 634h3v1h-3zM530 634h1v1h-1zM531 635h2v1h-2zM536 635h3v1h-3zM542 636h1v1h-1zM543 637h2v1h-2zM548 638h3v1h-3zM554 639h2v1h-2zM556 640h1v1h-1zM560 641h3v1h-3zM566 642h2v1h-2zM568 643h1v1h-1zM572 644h3v1h-3zM578 645h3v1h-3zM584 646h3v1h-3zM590 647h3v1h-3zM596 647h3v1h-3zM602 647h2v1h-2zM604 646h1v1h-1zM608 645h3v1h-3zM614 644h3v1h-3zM620 643h1v1h-1zM621 642h2v1h-2zM626 641h3v1h-3zM632 639h3v1h-3zM638 637h3v1h-3zM644 635h1v1h-1zM645 634h2v1h-2zM650 632h2v1h-2zM652 631h1v1h-1zM656 629h2v1h-2zM658 628h1v1h-1zM662 626h3v1h-3zM668 624h1v1h-1zM669 623h2v1h-2zM674 621h1v1h-1zM675 620h2v1h-2zM680 618h2v1h-2zM682 617h1v1h-1zM686 616h1v1h-1zM687 615h2v1h-2zM692 613h1v1h-1zM693 612h1v1h-1zM694 611h1v1h-1zM698 609h2v1h-2zM700 608h1v1h-1zM704 606h2v1h-2zM706 605h1v1h-1zM710 604h1v1h-1zM711 603h2v1h-2zM716 602h1v1h-1zM717 601h2v1h-2zM722 600h2v1h-2zM724 599h1v1h-1zM728 599h3v1h-3zM734 598h3v1h-3zM740 599h3v1h-3zM746 600h1v1h-1zM747 601h2v1h-2zM752 602h3v1h-3zM758 603h2v1h-2zM760 604h1v1h-1zM764 605h3v1h-3zM770 607h3v1h-3zM776 609h3v1h-3zM782 611h3v1h-3zM788 612h3v1h-3zM794 613h3v1h-3zM800 613h3v1h-3zM806 612h3v1h-3zM812 612h1v1h-1zM813 611h2v1h-2zM818 609h2v1h-2zM820 608h1v1h-1zM824 606h2v1h-2zM826 605h1v1h-1zM830 603h2v1h-2zM832 602h1v1h-1zM836 600h2v1h-2zM838 599h1v1h-1zM842 597h1v1h-1zM843 596h2v1h-2zM848 594h1v1h-1zM849 593h2v1h-2zM854 591h1v1h-1zM855 590h2v1h-2zM860 588h2v1h-2zM862 587h1v1h-1zM866 585h3v1h-3zM872 583h2v1h-2zM874 582h1v1h-1zM878 581h1v1h-1zM879 580h2v1h-2zM884 579h2v1h-2zM886 578h1v1h-1zM890 577h3v1h-3zM896 577h3v1h-3zM902 577h3v1h-3zM908 577h3v1h-3zM914 578h3v1h-3zM920 579h3v1h-3zM926 580h3v1h-3zM932 580h3v1h-3zM938 581h3v1h-3zM944 581h3v1h-3zM950 582h3v1h-3zM956 582h3v1h-3zM962 582h3v1h-3zM968 581h3v1h-3zM974 580h3v1h-3zM980 579h1v1h-1zM981 578h2v1h-2zM986 577h3v1h-3zM992 576h3v1h-3zM998 576h1v1h-1zM999 575h2v1h-2zM1004 575h3v1h-3zM1010 575h1v1h-1zM1011 576h2v1h-2zM1016 576h3v1h-3zM1022 578h3v1h-3zM1028 580h2v1h-2zM1030 581h1v1h-1zM1034 583h2v1h-2zM1036 584h1v1h-1zM1040 586h2v1h-2zM1042 587h1v1h-1zM1046 589h2v1h-2zM1048 590h1v1h-1zM1052 592h2v1h-2zM1054 593h1v1h-1zM1058 597h1v1h-1zM1059 598h1v1h-1zM1060 599h1v1h-1zM1064 603h1v1h-1zM1065 604h1v1h-1zM1066 605h1v1h-1zM1070 608h1v1h-1zM1071 609h1v1h-1zM1072 610h1v1h-1zM1076 614h1v1h-1zM1077 615h1v1h-1zM1078 616h1v1h-1zM1082 619h1v1h-1zM1083 620h1v1h-1zM1084 621h1v1h-1zM1088 625h1v1h-1zM1089 626h2v1h-2zM1094 630h1v1h-1zM1095 631h1v1h-1zM1096 632h1v1h-1zM1100 635h1v1h-1zM1101 636h1v1h-1zM1102 637h1v1h-1zM1106 640h1v1h-1zM1107 641h2v1h-2zM1112 644h1v1h-1zM1113 645h2v1h-2zM1118 646h1v1h-1zM1119 647h1v1h-1z" fill="#FF0000"/>
<rect x="784" y="566" width="1" height="4" fill="#FF0000"/>
<line x1="8" y1="709.5" x2="1423" y2="709.5" stroke="#c0c0c0" stroke-dasharray="3,3"/>
<line x1="8" y1="760.5" x2="1423" y2="760.5" stroke="#c0c0c0" stroke-dasharray="3,3"/>
<path d="M8 735h1v1h-1zM9 736h1v1h-1zM10 737h1v1h-1zM11 738h1v1h-1zM12 739h2v1h-2zM14 740h1v1h-1zM15 741h1v1h-1zM16 742h1v1h-1zM17 743h2v1h-2zM19 744h2v1h-2zM21 745h2v1h-2zM23 746h2v1h-2zM25 745h2v1h-2zM27 744h1v1h-1zM28 743h2v1h-2zM30 742h2v1h-2zM32 741h4v1h-4zM36 742h8v1h-8zM44 743h5v1h-5zM49 744h1v1h-1zM50 745h1v1h-1zM51 746h1v1h-1zM52 747h1v1h-1zM53 748h1v1h-1zM54 749h1v1h-1zM55 750h1v1h-1zM56 751h4v1h-4zM60 752h5v1h-5zM65 751h1v1h-1zM66 750h2v1h-2zM68 749h1v1h-1zM69 748h1v1h-1zM70 747h2v1h-2zM72 746h2v1h-2zM74 747h4v1h-4zM78 748h2v1h-2zM80 747h1v1h-1zM81 746h2v1h-2zM83 745h1v1h-1zM84 744h1v1h-1zM85 743h2v1h-2zM87 742h1v1h-1zM88 741h4v1h-4zM92 742h5v1h-5zM97 741h2v1h-2zM99 740h1v1h-1zM100 739h2v1h-2zM102 738h2v1h-2zM104 737h1v1h-1zM105 738h2v1h-2zM107 739h2v1h-2zM109 740h2v1h-2zM111 741h2v1h-2zM113 740h2v1h-2zM115 739h2v1h-2zM117 738h2v1h-2zM119 737h11v1h-11zM130 736h2v1h-2zM132 735h3v1h-3zM135 734h3v1h-3zM138 735h4v1h-4zM142 736h3v1h-3zM145 735h1v1h-1zM146 734h1v1h-1zM147 733h1v1h-1zM148 731h1v2h-1zM149 730h1v1h-1zM150 729h1v1h-1zM151 728h1v1h-1zM152 727h1v1h-1zM153 728h1v1h-1zM154 729h2v1h-2zM156 730h1v1h-1zM157 731h1v1h-1zM158 732h2v1h-2zM160 733h1v1h-1zM161 734h2v1h-2zM163 735h2v1h-2zM165 736h2v1h-2zM167 737h2v1h-2zM169 738h8v1h-8zM177 737h1v1h-1zM178 736h1v1h-1zM179 735h1v1h-1zM180 734h2v1h-2zM182 733h1v1h-1zM183 732h1v1h-1zM184 731h1v1h-1zM185 730h2v1h-2zM187 729h2v1h-2zM189 728h2v1h-2zM191 727h2v1h-2zM193 728h1v2h-1zM194 730h1v1h-1zM195 731h1v1h-1zM196 732h1v2h-1zM197 734h1v1h-1zM198 735h1v1h-1zM199 736h1v2h-1zM200 738h9v1h-9zM209 737h2v1h-2zM211 736h2v1h-2zM213 735h2v1h-2zM215 734h3v1h-3zM218 733h4v1h-4zM222 732h11v1h-11zM233 733h1v2h-1zM234 735h1v1h-1zM235 736h1v1h-1zM236 737h1v2h-1zM237 739h1v1h-1zM238 740h1v1h-1zM239 741h1v2h-1zM240 743h1v1h-1zM241 741h1v2h-1zM242 740h1v1h-1zM243 738h1v2h-1zM244 737h1v1h-1zM245 735h1v2h-1zM246 734h1v1h-1zM247 732h1v2h-1zM248 731h2v1h-2zM250 732h4v1h-4zM254 733h6v1h-6zM260 734h13v1h-13zM273 733h2v1h-2zM275 732h2v1h-2zM277 731h2v1h-2zM279 730h5v1h-5zM284 729h5v1h-5zM289 728h1v1h-1zM290 727h1v1h-1zM291 726h1v1h-1zM292 725h1v1h-1zM293 724h1v1h-1zM294 723h1v1h-1zM295 722h1v1h-1zM296 721h1v1h-1zM297 722h1v1h-1zM298 723h1v2h-1zM299 725h1v1h-1zM300 726h1v1h-1zM301 727h1v1h-1zM302 728h1v2h-1zM303 730h1v1h-1zM304 731h1v1h-1zM305 730h1v1h-1zM306 729h1v1h-1zM307 728h1v1h-1zM308 727h1v1h-1zM309 726h1v1h-1zM310 725h1v1h-1zM311 724h1v1h-1zM312 723h19v1h-19zM331 724h4v1h-4zM335 725h3v1h-3zM338 724h4v1h-4zM342 723h3v1h-3zM345 724h1v1h-1zM346 725h1v1h-1zM347 726h1v1h-1zM348 727h2v1h-2zM350 728h1v1h-1zM351 729h1v1h-1zM352 730h9v1h-9zM361 731h2v1h-2zM363 732h2v1h-2zM365 733h2v1h-2zM367 734h2v1h-2zM369 735h1v1h-1zM370 736h1v1h-1zM371 737h1v1h-1zM372 738h1v1h-1zM373 739h1v1h-1zM374 740h1v1h-1zM375 741h1v1h-1zM376 742h1v1h-1zM377 743h1v1h-1zM378 744h1v2h-1zM379 746h1v2h-1zM380 748h1v1h-1zM381 749h1v2h-1zM382 751h1v1h-1zM383 752h1v2h-1zM384 754h1v2h-1zM385 756h4v1h-4zM389 755h4v1h-4zM393 754h2v1h-2zM395 753h1v1h-1zM396 752h1v1h-1zM397 751h2v1h-2zM399 750h3v1h-3zM402 749h4v1h-4zM406 748h4v1h-4zM410 747h2v1h-2zM412 746h3v1h-3zM415 745h5v1h-5zM420 746h5v1h-5zM425 747h2v1h-2zM427 748h1v1h-1zM428 749h2v1h-2zM430 750h2v1h-2zM432 751h1v1h-1zM433 752h2v1h-2zM435 753h1v1h-1zM436 754h2v1h-2zM438 755h2v1h-2zM440 756h1v1h-1zM441 755h1v1h-1zM442 754h1v1h-1zM443 753h1v1h-1zM444 752h2v1h-2zM446 751h1v1h-1zM447 750h1v1h-1zM448 749h1v1h-1zM449 750h1v1h-1zM450 751h1v1h-1zM451 752h1v1h-1zM452 753h2v1h-2zM454 754h1v1h-1zM455 755h1v1h-1zM456 756h1v1h-1zM457 755h2v1h-2zM459 754h2v1h-2zM461 753h2v1h-2zM463 752h2v1h-2zM465 751h1v1h-1zM466 750h2v1h-2zM468 749h2v1h-2zM470 748h2v1h-2zM472 747h2v1h-2zM474 748h4v1h-4zM478 749h6v1h-6zM484 750h6v1h-6zM490 749h2v1h-2zM492 748h3v1h-3zM495 747h3v1h-3zM498 748h4v1h-4zM502 749h3v1h-3zM505 750h1v1h-1zM506 751h1v1h-1zM507 752h1v1h-1zM508 753h2v1h-2zM510 754h1v1h-1zM511 755h1v1h-1zM512 756h2v1h-2zM514 757h4v1h-4zM518 758h6v1h-6zM524 759h4v1h-4zM528 760h2v1h-2zM530 761h1v1h-1zM531 762h2v1h-2zM533 763h2v1h-2zM535 764h2v1h-2zM537 765h3v1h-3zM540 766h3v1h-3zM543 767h2v1h-2zM545 765h1v2h-1zM546 764h1v1h-1zM547 762h1v2h-1zM548 761h1v1h-1zM549 759h1v2h-1zM550 758h1v1h-1zM551 756h1v2h-1zM552 755h1v1h-1zM553 754h2v1h-2zM555 753h2v1h-2zM557 752h2v1h-2zM559 751h2v1h-2zM561 752h2v1h-2zM563 753h1v1h-1zM564 754h2v1h-2zM566 755h2v1h-2zM568 756h4v1h-4zM572 757h4v1h-4zM576 756h2v1h-2zM578 755h1v1h-1zM579 754h2v1h-2zM581 753h1v1h-1zM582 752h2v1h-2zM584 751h1v1h-1zM585 750h1v1h-1zM586 749h1v1h-1zM587 748h1v1h-1zM588 746h1v2h-1zM589 745h1v1h-1zM590 744h1v1h-1zM591 743h1v1h-1zM592 742h4v1h-4zM596 743h6v1h-6zM602 744h4v1h-4zM606 745h4v1h-4zM610 744h4v1h-4zM614 743h4v1h-4zM618 744h4v1h-4zM622 745h4v1h-4zM626 746h2v1h-2zM628 747h3v1h-3zM631 748h2v1h-2zM633 747h1v1h-1zM634 745h1v2h-1zM635 744h1v1h-1zM636 743h1v1h-1zM637 742h1v1h-1zM638 740h1v2h-1zM639 739h1v1h-1zM640 738h2v1h-2zM642 739h4v1h-4zM646 740h3v1h-3zM649 739h1v1h-1zM650 737h1v2h-1zM651 736h1v1h-1zM652 735h1v1h-1zM653 734h1v1h-1zM654 732h1v2h-1zM655 731h1v1h-1zM656 730h1v1h-1zM657 729h2v1h-2zM659 728h1v1h-1zM660 727h2v1h-2zM662 726h2v1h-2zM664 725h1v1h-1zM665 726h1v1h-1zM666 727h2v1h-2zM668 728h1v1h-1zM669 729h1v1h-1zM670 730h2v1h-2zM672 731h4v1h-4zM676 730h5v1h-5zM681 729h1v1h-1zM682 728h2v1h-2zM684 727h1v1h-1zM685 726h1v1h-1zM686 725h2v1h-2zM688 724h1v1h-1zM689 723h2v1h-2zM691 724h2v1h-2zM693 725h2v1h-2zM695 726h2v1h-2zM697 727h1v1h-1zM698 728h1v1h-1zM699 729h1v1h-1zM700 730h1v2h-1zM701 732h1v1h-1zM702 733h1v1h-1zM703 734h1v1h-1zM704 735h9v1h-9zM713 736h1v1h-1zM714 737h1v1h-1zM715 738h1v1h-1zM716 739h2v1h-2zM718 740h1v1h-1zM719 741h1v1h-1zM720 742h1v1h-1zM721 743h2v1h-2zM723 744h2v1h-2zM725 745h2v1h-2zM727 746h2v1h-2zM729 747h1v1h-1zM730 748h1v1h-1zM731 749h1v1h-1zM732 750h1v1h-1zM733 751h1v1h-1zM734 752h1v1h-1zM735 753h1v1h-1zM736 754h1v1h-1zM737 753h2v1h-2zM739 752h2v1h-2zM741 751h2v1h-2zM743 750h1v1h-1zM744 751h2v1h-2zM746 752h2v1h-2zM748 753h2v1h-2zM750 754h2v1h-2zM752 755h1v1h-1zM753 754h1v1h-1zM754 753h1v1h-1zM755 752h1v1h-1zM756 750h1v2h-1zM757 749h1v1h-1zM758 748h1v1h-1zM759 747h1v1h-1zM760 746h4v1h-4zM764 745h5v1h-5zM769 744h1v1h-1zM770 743h1v1h-1zM771 742h1v1h-1zM772 740h1v2h-1zM773 739h1v1h-1zM774 738h1v1h-1zM775 737h1v1h-1zM776 736h4v1h-4zM780 735h5v1h-5zM785 734h2v1h-2zM787 733h2v1h-2zM789 732h2v1h-2zM791 731h2v1h-2zM793 730h2v1h-2zM795 729h2v1h-2zM797 728h2v1h-2zM799 727h5v1h-5zM804 728h5v1h-5zM809 727h2v1h-2zM811 726h1v1h-1zM812 725h2v1h-2zM814 724h2v1h-2zM816 723h1v1h-1zM817 722h2v1h-2zM819 721h2v1h-2zM821 720h2v1h-2zM823 719h3v1h-3zM826 718h2v1h-2zM828 717h2v1h-2zM830 716h11v1h-11zM841 717h1v2h-1zM842 719h1v2h-1zM843 721h1v2h-1zM844 723h1v2h-1zM845 725h1v2h-1zM846 727h1v2h-1zM847 729h1v2h-1zM848 731h2v1h-2zM848 732h1v1h-1zM850 730h2v1h-2zM852 729h1v1h-1zM853 728h1v1h-1zM854 727h2v1h-2zM856 726h1v1h-1zM857 725h1v1h-1zM858 724h2v1h-2zM860 723h1v1h-1zM861 722h1v1h-1zM862 721h2v1h-2zM864 720h4v1h-4zM868 721h5v1h-5zM873 722h1v2h-1zM874 724h1v1h-1zM875 725h1v1h-1zM876 726h1v2h-1zM877 728h1v1h-1zM878 729h1v1h-1zM879 730h1v2h-1zM880 732h11v1h-11zM891 733h4v1h-4zM895 734h2v1h-2zM897 735h1v1h-1zM898 736h1v1h-1zM899 737h1v1h-1zM900 738h1v2h-1zM901 740h1v1h-1zM902 741h1v1h-1zM903 742h1v1h-1zM904 743h1v1h-1zM905 742h1v1h-1zM906 741h1v1h-1zM907 740h1v1h-1zM908 739h2v1h-2zM910 738h1v1h-1zM911 737h1v1h-1zM912 736h2v1h-2zM914 735h2v1h-2zM916 734h3v1h-3zM919 733h2v1h-2zM921 732h1v1h-1zM922 731h1v1h-1zM923 730h1v1h-1zM924 728h1v2h-1zM925 727h1v1h-1zM926 726h1v1h-1zM927 725h1v1h-1zM928 724h4v1h-4zM932 725h6v1h-6zM938 724h2v1h-2zM940 723h3v1h-3zM943 722h2v1h-2zM945 723h2v1h-2zM947 724h1v1h-1zM948 725h2v1h-2zM950 726h2v1h-2zM952 727h2v1h-2zM954 728h4v1h-4zM958 729h3v1h-3zM961 728h1v1h-1zM962 726h1v2h-1zM963 725h1v1h-1zM964 724h1v1h-1zM965 723h1v1h-1zM966 721h1v2h-1zM967 720h1v1h-1zM968 719h1v1h-1zM969 720h1v1h-1zM970 721h2v1h-2zM972 722h1v1h-1zM973 723h1v1h-1zM974 724h2v1h-2zM976 725h9v1h-9zM985 726h2v1h-2zM987 727h2v1h-2zM989 728h2v1h-2zM991 729h2v1h-2zM993 730h1v1h-1zM994 731h2v1h-2zM996 732h1v1h-1zM997 733h1v1h-1zM998 734h2v1h-2zM1000 735h1v1h-1zM1001 736h2v1h-2zM1003 737h2v1h-2zM1005 738h2v1h-2zM1007 739h2v1h-2zM1009 740h2v1h-2zM1011 741h2v1h-2zM1013 742h2v1h-2zM1015 743h1v1h-1zM1016 744h1v1h-1zM1017 745h1v1h-1zM1018 746h1v1h-1zM1019 747h2v1h-2zM1021 748h1v1h-1zM1022 749h1v1h-1zM1023 750h1v1h-1zM1024 751h12v1h-12zM1036 752h5v1h-5zM1041 753h2v1h-2zM1043 754h2v1h-2zM1045 755h2v1h-2zM1047 756h2v1h-2zM1049 757h2v1h-2zM1051 758h2v1h-2zM1053 759h2v1h-2zM1055 760h2v1h-2zM1057 761h2v1h-2zM1059 762h1v1h-1zM1060 763h2v1h-2zM1062 764h2v1h-2zM1064 765h12v1h-12zM1076 766h6v1h-6zM1082 767h2v1h-2zM1084 768h3v1h-3zM1087 769h17v1h-17zM1104 767h1v2h-1zM1105 765h1v2h-1zM1106 763h1v2h-1zM1107 761h1v2h-1zM1108 759h1v2h-1zM1109 757h1v2h-1zM1110 755h1v2h-1zM1111 753h1v2h-1zM1112 752h4v1h-4zM1116 753h4v1h-4z" fill="#1E90FF"/>
</g>
<rect x="1424" y="31" width="2" height="1" fill="#000"/>
<text x="1429" y="34.8" font-size="9.6" fill="#000" textLength="32.8" lengthAdjust="spacingAndGlyphs" stroke="#000" stroke-width="0.12">0.72250</text>
<rect x="1424" y="64" width="2" height="1" fill="#000"/>
<text x="1429" y="67.8" font-size="9.6" fill="#000" textLength="32.8" lengthAdjust="spacingAndGlyphs" stroke="#000" stroke-width="0.12">0.71900</text>
<rect x="1424" y="97" width="2" height="1" fill="#000"/>
<text x="1429" y="100.8" font-size="9.6" fill="#000" textLength="32.8" lengthAdjust="spacingAndGlyphs" stroke="#000" stroke-width="0.12">0.71550</text>
<rect x="1424" y="130" width="2" height="1" fill="#000"/>
<text x="1429" y="133.8" font-size="9.6" fill="#000" textLength="32.8" lengthAdjust="spacingAndGlyphs" stroke="#000" stroke-width="0.12">0.71200</text>
<rect x="1424" y="163" width="2" height="1" fill="#000"/>
<text x="1429" y="166.8" font-size="9.6" fill="#000" textLength="32.8" lengthAdjust="spacingAndGlyphs" stroke="#000" stroke-width="0.12">0.70850</text>
<rect x="1424" y="196" width="2" height="1" fill="#000"/>
<text x="1429" y="199.8" font-size="9.6" fill="#000" textLength="32.8" lengthAdjust="spacingAndGlyphs" stroke="#000" stroke-width="0.12">0.70500</text>
<rect x="1424" y="229" width="2" height="1" fill="#000"/>
<text x="1429" y="232.8" font-size="9.6" fill="#000" textLength="32.8" lengthAdjust="spacingAndGlyphs" stroke="#000" stroke-width="0.12">0.70150</text>
<rect x="1424" y="262" width="2" height="1" fill="#000"/>
<text x="1429" y="265.8" font-size="9.6" fill="#000" textLength="32.8" lengthAdjust="spacingAndGlyphs" stroke="#000" stroke-width="0.12">0.69800</text>
<rect x="1424" y="295" width="2" height="1" fill="#000"/>
<text x="1429" y="298.8" font-size="9.6" fill="#000" textLength="32.8" lengthAdjust="spacingAndGlyphs" stroke="#000" stroke-width="0.12">0.69450</text>
<rect x="1424" y="328" width="2" height="1" fill="#000"/>
<text x="1429" y="331.8" font-size="9.6" fill="#000" textLength="32.8" lengthAdjust="spacingAndGlyphs" stroke="#000" stroke-width="0.12">0.69100</text>
<rect x="1424" y="361" width="2" height="1" fill="#000"/>
<text x="1429" y="364.8" font-size="9.6" fill="#000" textLength="32.8" lengthAdjust="spacingAndGlyphs" stroke="#000" stroke-width="0.12">0.68750</text>
<rect x="1424" y="394" width="2" height="1" fill="#000"/>
<text x="1429" y="397.8" font-size="9.6" fill="#000" textLength="32.8" lengthAdjust="spacingAndGlyphs" stroke="#000" stroke-width="0.12">0.68400</text>
<rect x="1424" y="460" width="2" height="1" fill="#000"/>
<text x="1429" y="463.8" font-size="9.6" fill="#000" textLength="32.8" lengthAdjust="spacingAndGlyphs" stroke="#000" stroke-width="0.12">0.67710</text>
<rect x="1424" y="493" width="2" height="1" fill="#000"/>
<text x="1429" y="496.8" font-size="9.6" fill="#000" textLength="32.8" lengthAdjust="spacingAndGlyphs" stroke="#000" stroke-width="0.12">0.67360</text>
<rect x="1424" y="526" width="2" height="1" fill="#000"/>
<text x="1429" y="529.8" font-size="9.6" fill="#000" textLength="32.8" lengthAdjust="spacingAndGlyphs" stroke="#000" stroke-width="0.12">0.67010</text>
<rect x="1424" y="559" width="2" height="1" fill="#000"/>
<text x="1429" y="562.8" font-size="9.6" fill="#000" textLength="32.8" lengthAdjust="spacingAndGlyphs" stroke="#000" stroke-width="0.12">0.66660</text>
<rect x="1425" y="143" width="41" height="11" fill="#FF0000"/>
<text x="1429" y="151.8" font-size="9.6" fill="#fff" textLength="32.8" lengthAdjust="spacingAndGlyphs" stroke="#fff" stroke-width="0.12">0.71005</text>
<rect x="1425" y="284" width="41" height="11" fill="#FF0000"/>
<text x="1429" y="292.8" font-size="9.6" fill="#fff" textLength="32.8" lengthAdjust="spacingAndGlyphs" stroke="#fff" stroke-width="0.12">0.69503</text>
<rect x="1425" y="365" width="41" height="11" fill="#FF0000"/>
<text x="1429" y="373.8" font-size="9.6" fill="#fff" textLength="32.8" lengthAdjust="spacingAndGlyphs" stroke="#fff" stroke-width="0.12">0.68650</text>
<rect x="1425" y="422" width="41" height="11" fill="#000"/>
<text x="1429" y="430.8" font-size="9.6" fill="#fff" textLength="32.8" lengthAdjust="spacingAndGlyphs" stroke="#fff" stroke-width="0.12">0.68050</text>
<rect x="1425" y="473" width="41" height="11" fill="#00FF00"/>
<text x="1429" y="481.8" font-size="9.6" fill="#fff" textLength="32.8" lengthAdjust="spacingAndGlyphs" stroke="#fff" stroke-width="0.12">0.67508</text>
<rect x="1425" y="543" width="41" height="11" fill="#0000FF"/>
<text x="1429" y="551.8" font-size="9.6" fill="#fff" textLength="32.8" lengthAdjust="spacingAndGlyphs" stroke="#fff" stroke-width="0.12">0.66767</text>
<rect x="1424" y="566" width="1" height="1" fill="#000"/>
<text x="1427.2" y="575" font-size="9.6" fill="#000" textLength="38" lengthAdjust="spacingAndGlyphs" stroke="#000" stroke-width="0.12">0.002574</text>
<rect x="1424" y="595" width="2" height="1" fill="#000"/>
<text x="1427.2" y="599" font-size="9.6" fill="#000" textLength="17.5" lengthAdjust="spacingAndGlyphs" stroke="#000" stroke-width="0.12">0.00</text>
<text x="1427.2" y="664" font-size="9.6" fill="#000" textLength="41.5" lengthAdjust="spacingAndGlyphs" stroke="#000" stroke-width="0.12">-0.006326</text>
<rect x="1424" y="671" width="1" height="1" fill="#000"/>
<rect x="1424" y="666" width="1" height="1" fill="#000"/>
<text x="1427.2" y="680.2" font-size="9.6" fill="#000" textLength="14.8" lengthAdjust="spacingAndGlyphs" stroke="#000" stroke-width="0.12">100</text>
<text x="1426.2" y="713" font-size="9.6" fill="#000" textLength="9.8" lengthAdjust="spacingAndGlyphs" stroke="#000" stroke-width="0.12">70</text>
<text x="1426.2" y="764" font-size="9.6" fill="#000" textLength="9.8" lengthAdjust="spacingAndGlyphs" stroke="#000" stroke-width="0.12">30</text>
<text x="1427.2" y="795.8" font-size="9.6" fill="#000" textLength="4.6" lengthAdjust="spacingAndGlyphs" stroke="#000" stroke-width="0.12">0</text>
<rect x="8" y="800" width="1" height="3" fill="#000"/>
<text x="7.3" y="811.7" font-size="9.6" fill="#000" textLength="51.6" lengthAdjust="spacingAndGlyphs" stroke="#000" stroke-width="0.12">27 Feb 2019</text>
<rect x="72" y="800" width="1" height="3" fill="#000"/>
<text x="71.3" y="811.7" font-size="9.6" fill="#000" textLength="46.5" lengthAdjust="spacingAndGlyphs" stroke="#000" stroke-width="0.12">8 Mar 2019</text>
<rect x="136" y="800" width="1" height="3" fill="#000"/>
<text x="135.3" y="811.7" font-size="9.6" fill="#000" textLength="51.1" lengthAdjust="spacingAndGlyphs" stroke="#000" stroke-width="0.12">18 Mar 2019</text>
<rect x="200" y="800" width="1" height="3" fill="#000"/>
<text x="199.3" y="811.7" font-size="9.6" fill="#000" textLength="51.1" lengthAdjust="spacingAndGlyphs" stroke="#000" stroke-width="0.12">27 Mar 2019</text>
<rect x="264" y="800" width="1" height="3" fill="#000"/>
<text x="263.3" y="811.7" font-size="9.6" fill="#000" textLength="45.1" lengthAdjust="spacingAndGlyphs" stroke="#000" stroke-width="0.12">5 Apr 2019</text>
<rect x="328" y="800" width="1" height="3" fill="#000"/>
<text x="327.3" y="811.7" font-size="9.6" fill="#000" textLength="49.6" lengthAdjust="spacingAndGlyphs" stroke="#000" stroke-width="0.12">15 Apr 2019</text>
<rect x="392" y="800" width="1" height="3" fill="#000"/>
<text x="391.3" y="811.7" font-size="9.6" fill="#000" textLength="49.8" lengthAdjust="spacingAndGlyphs" stroke="#000" stroke-width="0.12">25 Apr 2019</text>
<rect x="456" y="800" width="1" height="3" fill="#000"/>
<text x="455.3" y="811.7" font-size="9.6" fill="#000" textLength="49.1" lengthAdjust="spacingAndGlyphs" stroke="#000" stroke-width="0.12">5 May 2019</text>
<rect x="520" y="800" width="1" height="3" fill="#000"/>
<text x="519.3" y="811.7" font-size="9.6" fill="#000" textLength="54.5" lengthAdjust="spacingAndGlyphs" stroke="#000" stroke-width="0.12">14 May 2019</text>
<rect x="584" y="800" width="1" height="3" fill="#000"/>
<text x="583.3" y="811.7" font-size="9.6" fill="#000" textLength="54" lengthAdjust="spacingAndGlyphs" stroke="#000" stroke-width="0.12">23 May 2019</text>
<rect x="648" y="800" width="1" height="3" fill="#000"/>
<text x="647.3" y="811.7" font-size="9.6" fill="#000" textLength="44.1" lengthAdjust="spacingAndGlyphs" stroke="#000" stroke-width="0.12">2 Jun 2019</text>
<rect x="712" y="800" width="1" height="3" fill="#000"/>
<text x="711.3" y="811.7" font-size="9.6" fill="#000" textLength="49.1" lengthAdjust="spacingAndGlyphs" stroke="#000" stroke-width="0.12">11 Jun 2019</text>
<rect x="776" y="800" width="1" height="3" fill="#000"/>
<text x="775.3" y="811.7" font-size="9.6" fill="#000" textLength="49.1" lengthAdjust="spacingAndGlyphs" stroke="#000" stroke-width="0.12">20 Jun 2019</text>
<rect x="840" y="800" width="1" height="3" fill="#000"/>
<text x="839.3" y="811.7" font-size="9.6" fill="#000" textLength="49.1" lengthAdjust="spacingAndGlyphs" stroke="#000" stroke-width="0.12">30 Jun 2019</text>
<rect x="904" y="800" width="1" height="3" fill="#000"/>
<text x="903.3" y="811.7" font-size="9.6" fill="#000" textLength="41.2" lengthAdjust="spacingAndGlyphs" stroke="#000" stroke-width="0.12">9 Jul 2019</text>
<rect x="968" y="800" width="1" height="3" fill="#000"/>
<text x="967.3" y="811.7" font-size="9.6" fill="#000" textLength="46.1" lengthAdjust="spacingAndGlyphs" stroke="#000" stroke-width="0.12">18 Jul 2019</text>
<rect x="1032" y="800" width="1" height="3" fill="#000"/>
<text x="1031.3" y="811.7" font-size="9.6" fill="#000" textLength="45.8" lengthAdjust="spacingAndGlyphs" stroke="#000" stroke-width="0.12">28 Jul 2019</text>
<rect x="1096" y="800" width="1" height="3" fill="#000"/>
<text x="1095.3" y="811.7" font-size="9.6" fill="#000" textLength="47.1" lengthAdjust="spacingAndGlyphs" stroke="#000" stroke-width="0.12">6 Aug 2019</text>
<rect x="3" y="820" width="1464" height="1" fill="#e3e3e3"/>
<rect x="0" y="820" width="3" height="22" fill="#f0f0f0"/>
<rect x="3" y="821" width="1464" height="1" fill="#fff"/>
<rect x="3" y="822" width="1464" height="20" fill="#f0f0f0"/>
<rect x="3" y="822" width="1464" height="1" fill="#000"/>
<rect x="3" y="823" width="1" height="18" fill="#a0a0a0"/>
<rect x="4" y="823" width="1" height="18" fill="#696969"/>
<rect x="5" y="823" width="1462" height="1" fill="#fff"/>
<rect x="5" y="823" width="1" height="17" fill="#fff"/>
<rect x="0" y="841" width="5" height="1" fill="#a0a0a0"/>
<rect x="118" y="821" width="107" height="19" fill="#fff"/>
<rect x="117" y="822" width="1" height="18" fill="#000"/>
<rect x="224" y="822" width="1" height="18" fill="#000"/>
<rect x="117" y="839" width="108" height="1" fill="#000"/>
<text x="20.4" y="837" font-size="12" fill="#6e6e6e" textLength="84.5" lengthAdjust="spacingAndGlyphs">EURUSD-,Daily</text>
<text x="127.3" y="837" font-size="12" fill="#000" textLength="86.5" lengthAdjust="spacingAndGlyphs">AUDUSD-,Daily</text>
<text x="237.4" y="837" font-size="12" fill="#6e6e6e" textLength="83.5" lengthAdjust="spacingAndGlyphs">USDCHF-,Daily</text>
<text x="344.2" y="837" font-size="12" fill="#6e6e6e" textLength="85.6" lengthAdjust="spacingAndGlyphs">USDCAD-,Daily</text>
<text x="453.1" y="837" font-size="12" fill="#6e6e6e" textLength="87.5" lengthAdjust="spacingAndGlyphs">USDCNH-,Daily</text>
<text x="564" y="837" font-size="12" fill="#6e6e6e" textLength="96.9" lengthAdjust="spacingAndGlyphs">EURCHF-,Weekly</text>
<text x="685" y="837" font-size="12" fill="#6e6e6e" textLength="100.3" lengthAdjust="spacingAndGlyphs">XAUUSD-,Weekly</text>
<text x="808" y="837" font-size="12" fill="#6e6e6e" textLength="72.4" lengthAdjust="spacingAndGlyphs">GBPUSD-,H1</text>
<text x="904.5" y="837" font-size="12" fill="#6e6e6e" textLength="56.1" lengthAdjust="spacingAndGlyphs">UKOil-,H4</text>
<text x="983.3" y="837" font-size="12" fill="#6e6e6e" textLength="82.5" lengthAdjust="spacingAndGlyphs">USDX-,Weekly</text>
<rect x="333" y="826" width="1" height="12" fill="#888"/>
<rect x="441" y="826" width="1" height="12" fill="#888"/>
<rect x="553" y="826" width="1" height="12" fill="#888"/>
<rect x="673" y="826" width="1" height="12" fill="#888"/>
<rect x="797" y="826" width="1" height="12" fill="#888"/>
<rect x="893" y="826" width="1" height="12" fill="#888"/>
<rect x="973" y="826" width="1" height="12" fill="#888"/>
<rect x="1077" y="826" width="1" height="12" fill="#888"/>
<polygon points="1442,826.5 1442,834.5 1438,830.5" fill="#999"/>
<polygon points="1457,826.5 1457,834.5 1461,830.5" fill="#999"/>
</svg>
</body></html>
